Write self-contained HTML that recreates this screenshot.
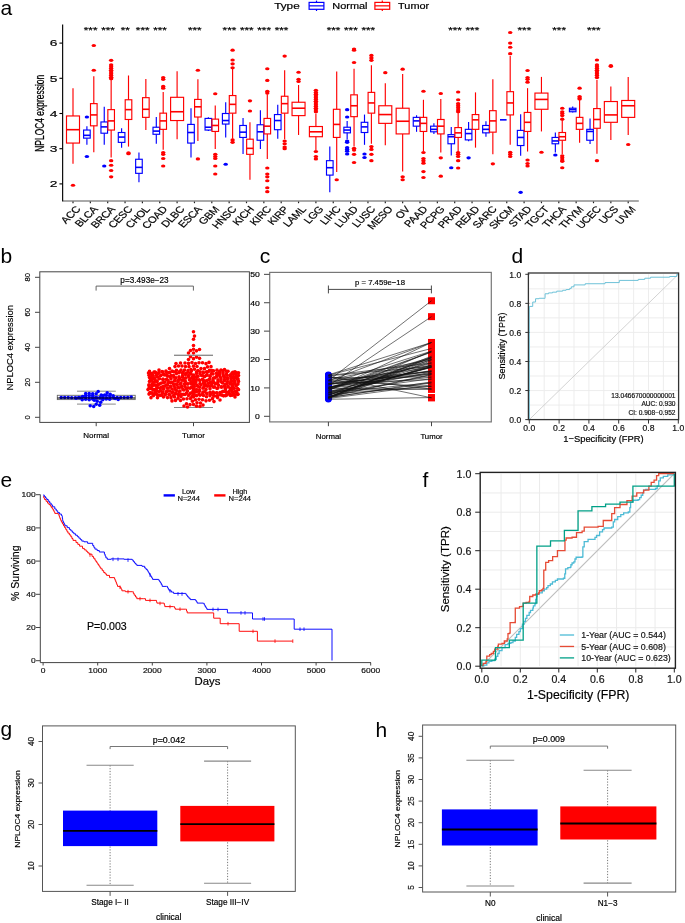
<!DOCTYPE html>
<html><head><meta charset="utf-8"><style>
html,body{margin:0;padding:0;background:#fff;width:685px;height:923px;overflow:hidden}
svg{display:block;will-change:transform}
text{font-family:"Liberation Sans",sans-serif;stroke:currentColor;stroke-width:0.18px}
</style></head><body>
<svg width="685" height="923" viewBox="0 0 685 923">
<rect x="0" y="0" width="685" height="923" fill="#fff"/>
<text x="0.50" y="15.30" font-size="21" text-anchor="start" fill="#000" style="stroke:none">a</text>
<text x="0.50" y="262.50" font-size="21" text-anchor="start" fill="#000" style="stroke:none">b</text>
<text x="259.70" y="262.80" font-size="21" text-anchor="start" fill="#000" style="stroke:none">c</text>
<text x="511.50" y="262.50" font-size="21" text-anchor="start" fill="#000" style="stroke:none">d</text>
<text x="0.50" y="487.20" font-size="21" text-anchor="start" fill="#000" style="stroke:none">e</text>
<text x="422.50" y="486.50" font-size="21" text-anchor="start" fill="#000" style="stroke:none">f</text>
<text x="0.50" y="735.50" font-size="21" text-anchor="start" fill="#000" style="stroke:none">g</text>
<text x="375.50" y="736.50" font-size="21" text-anchor="start" fill="#000" style="stroke:none">h</text>
<g>
<line x1="73.00" y1="115.96" x2="73.00" y2="88.16" stroke="#FF0000" stroke-width="1.15" />
<line x1="73.00" y1="143.07" x2="73.00" y2="163.84" stroke="#FF0000" stroke-width="1.15" />
<rect x="66.50" y="115.96" width="13.00" height="27.10" fill="none" stroke="#FF0000" stroke-width="1.15" />
<line x1="66.50" y1="129.69" x2="79.50" y2="129.69" stroke="#FF0000" stroke-width="1.6" />
<ellipse cx="73.00" cy="185.31" rx="2.2" ry="1.55" fill="#FF0000"/>
<line x1="86.90" y1="130.04" x2="86.90" y2="126.17" stroke="#0000FF" stroke-width="1.15" />
<line x1="86.90" y1="138.14" x2="86.90" y2="144.83" stroke="#0000FF" stroke-width="1.15" />
<rect x="83.60" y="130.04" width="6.60" height="8.10" fill="none" stroke="#0000FF" stroke-width="1.15" />
<line x1="83.60" y1="135.32" x2="90.20" y2="135.32" stroke="#0000FF" stroke-width="1.6" />
<ellipse cx="86.90" cy="117.02" rx="2.2" ry="1.55" fill="#0000FF"/>
<ellipse cx="86.90" cy="156.44" rx="2.2" ry="1.55" fill="#0000FF"/>
<line x1="93.80" y1="103.64" x2="93.80" y2="76.19" stroke="#FF0000" stroke-width="1.15" />
<line x1="93.80" y1="125.82" x2="93.80" y2="152.22" stroke="#FF0000" stroke-width="1.15" />
<rect x="90.50" y="103.64" width="6.60" height="22.18" fill="none" stroke="#FF0000" stroke-width="1.15" />
<line x1="90.50" y1="114.91" x2="97.10" y2="114.91" stroke="#FF0000" stroke-width="1.6" />
<ellipse cx="93.80" cy="70.20" rx="2.2" ry="1.55" fill="#FF0000"/>
<ellipse cx="93.80" cy="45.56" rx="2.2" ry="1.55" fill="#FF0000"/>
<text transform="translate(90.65,32.6) scale(1.4,1)" font-size="8.4" text-anchor="middle" fill="#000" >***</text>
<line x1="104.25" y1="121.95" x2="104.25" y2="106.81" stroke="#0000FF" stroke-width="1.15" />
<line x1="104.25" y1="133.21" x2="104.25" y2="144.83" stroke="#0000FF" stroke-width="1.15" />
<rect x="100.95" y="121.95" width="6.60" height="11.26" fill="none" stroke="#0000FF" stroke-width="1.15" />
<line x1="100.95" y1="126.88" x2="107.55" y2="126.88" stroke="#0000FF" stroke-width="1.6" />
<ellipse cx="104.25" cy="165.95" rx="2.2" ry="1.55" fill="#0000FF"/>
<line x1="111.15" y1="109.63" x2="111.15" y2="79.36" stroke="#FF0000" stroke-width="1.15" />
<line x1="111.15" y1="130.04" x2="111.15" y2="157.50" stroke="#FF0000" stroke-width="1.15" />
<rect x="107.85" y="109.63" width="6.60" height="20.42" fill="none" stroke="#FF0000" stroke-width="1.15" />
<line x1="107.85" y1="120.89" x2="114.45" y2="120.89" stroke="#FF0000" stroke-width="1.6" />
<ellipse cx="111.15" cy="60.35" rx="2.2" ry="1.55" fill="#FF0000"/>
<ellipse cx="111.15" cy="64.92" rx="2.2" ry="1.55" fill="#FF0000"/>
<ellipse cx="111.15" cy="66.68" rx="2.2" ry="1.55" fill="#FF0000"/>
<ellipse cx="111.15" cy="68.44" rx="2.2" ry="1.55" fill="#FF0000"/>
<ellipse cx="111.15" cy="70.20" rx="2.2" ry="1.55" fill="#FF0000"/>
<ellipse cx="111.15" cy="71.96" rx="2.2" ry="1.55" fill="#FF0000"/>
<ellipse cx="111.15" cy="73.72" rx="2.2" ry="1.55" fill="#FF0000"/>
<ellipse cx="111.15" cy="75.48" rx="2.2" ry="1.55" fill="#FF0000"/>
<ellipse cx="111.15" cy="77.24" rx="2.2" ry="1.55" fill="#FF0000"/>
<ellipse cx="111.15" cy="78.65" rx="2.2" ry="1.55" fill="#FF0000"/>
<ellipse cx="111.15" cy="160.67" rx="2.2" ry="1.55" fill="#FF0000"/>
<ellipse cx="111.15" cy="165.24" rx="2.2" ry="1.55" fill="#FF0000"/>
<ellipse cx="111.15" cy="170.52" rx="2.2" ry="1.55" fill="#FF0000"/>
<ellipse cx="111.15" cy="176.86" rx="2.2" ry="1.55" fill="#FF0000"/>
<text transform="translate(108.00,32.6) scale(1.4,1)" font-size="8.4" text-anchor="middle" fill="#000" >***</text>
<line x1="121.60" y1="132.51" x2="121.60" y2="128.28" stroke="#0000FF" stroke-width="1.15" />
<line x1="121.60" y1="142.36" x2="121.60" y2="147.64" stroke="#0000FF" stroke-width="1.15" />
<rect x="118.30" y="132.51" width="6.60" height="9.86" fill="none" stroke="#0000FF" stroke-width="1.15" />
<line x1="118.30" y1="137.08" x2="124.90" y2="137.08" stroke="#0000FF" stroke-width="1.6" />
<line x1="128.50" y1="99.77" x2="128.50" y2="75.48" stroke="#FF0000" stroke-width="1.15" />
<line x1="128.50" y1="119.48" x2="128.50" y2="146.59" stroke="#FF0000" stroke-width="1.15" />
<rect x="125.20" y="99.77" width="6.60" height="19.71" fill="none" stroke="#FF0000" stroke-width="1.15" />
<line x1="125.20" y1="109.63" x2="131.80" y2="109.63" stroke="#FF0000" stroke-width="1.6" />
<ellipse cx="128.50" cy="153.63" rx="2.2" ry="1.55" fill="#FF0000"/>
<ellipse cx="128.50" cy="152.92" rx="2.2" ry="1.55" fill="#FF0000"/>
<text transform="translate(125.35,32.6) scale(1.4,1)" font-size="8.4" text-anchor="middle" fill="#000" >**</text>
<line x1="138.95" y1="159.26" x2="138.95" y2="152.57" stroke="#0000FF" stroke-width="1.15" />
<line x1="138.95" y1="173.34" x2="138.95" y2="182.14" stroke="#0000FF" stroke-width="1.15" />
<rect x="135.65" y="159.26" width="6.60" height="14.08" fill="none" stroke="#0000FF" stroke-width="1.15" />
<line x1="135.65" y1="167.36" x2="142.25" y2="167.36" stroke="#0000FF" stroke-width="1.6" />
<line x1="145.85" y1="97.66" x2="145.85" y2="79.00" stroke="#FF0000" stroke-width="1.15" />
<line x1="145.85" y1="117.37" x2="145.85" y2="130.04" stroke="#FF0000" stroke-width="1.15" />
<rect x="142.55" y="97.66" width="6.60" height="19.71" fill="none" stroke="#FF0000" stroke-width="1.15" />
<line x1="142.55" y1="109.28" x2="149.15" y2="109.28" stroke="#FF0000" stroke-width="1.6" />
<text transform="translate(142.70,32.6) scale(1.4,1)" font-size="8.4" text-anchor="middle" fill="#000" >***</text>
<line x1="156.30" y1="127.23" x2="156.30" y2="117.02" stroke="#0000FF" stroke-width="1.15" />
<line x1="156.30" y1="134.27" x2="156.30" y2="143.77" stroke="#0000FF" stroke-width="1.15" />
<rect x="153.00" y="127.23" width="6.60" height="7.04" fill="none" stroke="#0000FF" stroke-width="1.15" />
<line x1="153.00" y1="131.10" x2="159.60" y2="131.10" stroke="#0000FF" stroke-width="1.6" />
<line x1="163.20" y1="113.15" x2="163.20" y2="92.03" stroke="#FF0000" stroke-width="1.15" />
<line x1="163.20" y1="129.34" x2="163.20" y2="149.76" stroke="#FF0000" stroke-width="1.15" />
<rect x="159.90" y="113.15" width="6.60" height="16.19" fill="none" stroke="#FF0000" stroke-width="1.15" />
<line x1="159.90" y1="120.89" x2="166.50" y2="120.89" stroke="#FF0000" stroke-width="1.6" />
<ellipse cx="163.20" cy="77.60" rx="2.2" ry="1.55" fill="#FF0000"/>
<ellipse cx="163.20" cy="79.36" rx="2.2" ry="1.55" fill="#FF0000"/>
<ellipse cx="163.20" cy="86.40" rx="2.2" ry="1.55" fill="#FF0000"/>
<ellipse cx="163.20" cy="88.16" rx="2.2" ry="1.55" fill="#FF0000"/>
<ellipse cx="163.20" cy="152.57" rx="2.2" ry="1.55" fill="#FF0000"/>
<ellipse cx="163.20" cy="154.33" rx="2.2" ry="1.55" fill="#FF0000"/>
<ellipse cx="163.20" cy="158.56" rx="2.2" ry="1.55" fill="#FF0000"/>
<ellipse cx="163.20" cy="165.95" rx="2.2" ry="1.55" fill="#FF0000"/>
<text transform="translate(160.05,32.6) scale(1.4,1)" font-size="8.4" text-anchor="middle" fill="#000" >***</text>
<line x1="177.10" y1="97.31" x2="177.10" y2="71.26" stroke="#FF0000" stroke-width="1.15" />
<line x1="177.10" y1="120.54" x2="177.10" y2="139.20" stroke="#FF0000" stroke-width="1.15" />
<rect x="170.60" y="97.31" width="13.00" height="23.23" fill="none" stroke="#FF0000" stroke-width="1.15" />
<line x1="170.60" y1="111.74" x2="183.60" y2="111.74" stroke="#FF0000" stroke-width="1.6" />
<line x1="191.00" y1="124.41" x2="191.00" y2="108.22" stroke="#0000FF" stroke-width="1.15" />
<line x1="191.00" y1="143.07" x2="191.00" y2="157.50" stroke="#0000FF" stroke-width="1.15" />
<rect x="187.70" y="124.41" width="6.60" height="18.66" fill="none" stroke="#0000FF" stroke-width="1.15" />
<line x1="187.70" y1="132.51" x2="194.30" y2="132.51" stroke="#0000FF" stroke-width="1.6" />
<line x1="197.90" y1="99.42" x2="197.90" y2="79.36" stroke="#FF0000" stroke-width="1.15" />
<line x1="197.90" y1="117.02" x2="197.90" y2="140.96" stroke="#FF0000" stroke-width="1.15" />
<rect x="194.60" y="99.42" width="6.60" height="17.60" fill="none" stroke="#FF0000" stroke-width="1.15" />
<line x1="194.60" y1="106.81" x2="201.20" y2="106.81" stroke="#FF0000" stroke-width="1.6" />
<ellipse cx="197.90" cy="70.20" rx="2.2" ry="1.55" fill="#FF0000"/>
<ellipse cx="197.90" cy="158.91" rx="2.2" ry="1.55" fill="#FF0000"/>
<text transform="translate(194.75,32.6) scale(1.4,1)" font-size="8.4" text-anchor="middle" fill="#000" >***</text>
<line x1="208.35" y1="118.43" x2="208.35" y2="117.37" stroke="#0000FF" stroke-width="1.15" />
<line x1="208.35" y1="130.04" x2="208.35" y2="131.10" stroke="#0000FF" stroke-width="1.15" />
<rect x="205.05" y="118.43" width="6.60" height="11.62" fill="none" stroke="#0000FF" stroke-width="1.15" />
<line x1="205.05" y1="127.23" x2="211.65" y2="127.23" stroke="#0000FF" stroke-width="1.6" />
<line x1="215.25" y1="119.13" x2="215.25" y2="105.40" stroke="#FF0000" stroke-width="1.15" />
<line x1="215.25" y1="131.45" x2="215.25" y2="149.05" stroke="#FF0000" stroke-width="1.15" />
<rect x="211.95" y="119.13" width="6.60" height="12.32" fill="none" stroke="#FF0000" stroke-width="1.15" />
<line x1="211.95" y1="125.47" x2="218.55" y2="125.47" stroke="#FF0000" stroke-width="1.6" />
<ellipse cx="215.25" cy="93.79" rx="2.2" ry="1.55" fill="#FF0000"/>
<ellipse cx="215.25" cy="154.33" rx="2.2" ry="1.55" fill="#FF0000"/>
<ellipse cx="215.25" cy="156.44" rx="2.2" ry="1.55" fill="#FF0000"/>
<ellipse cx="215.25" cy="158.56" rx="2.2" ry="1.55" fill="#FF0000"/>
<ellipse cx="215.25" cy="165.95" rx="2.2" ry="1.55" fill="#FF0000"/>
<ellipse cx="215.25" cy="174.04" rx="2.2" ry="1.55" fill="#FF0000"/>
<line x1="225.70" y1="113.50" x2="225.70" y2="102.24" stroke="#0000FF" stroke-width="1.15" />
<line x1="225.70" y1="124.06" x2="225.70" y2="137.44" stroke="#0000FF" stroke-width="1.15" />
<rect x="222.40" y="113.50" width="6.60" height="10.56" fill="none" stroke="#0000FF" stroke-width="1.15" />
<line x1="222.40" y1="120.54" x2="229.00" y2="120.54" stroke="#0000FF" stroke-width="1.6" />
<ellipse cx="225.70" cy="164.19" rx="2.2" ry="1.55" fill="#0000FF"/>
<line x1="232.60" y1="95.55" x2="232.60" y2="68.80" stroke="#FF0000" stroke-width="1.15" />
<line x1="232.60" y1="113.15" x2="232.60" y2="138.84" stroke="#FF0000" stroke-width="1.15" />
<rect x="229.30" y="95.55" width="6.60" height="17.60" fill="none" stroke="#FF0000" stroke-width="1.15" />
<line x1="229.30" y1="104.35" x2="235.90" y2="104.35" stroke="#FF0000" stroke-width="1.6" />
<ellipse cx="232.60" cy="50.14" rx="2.2" ry="1.55" fill="#FF0000"/>
<ellipse cx="232.60" cy="60.00" rx="2.2" ry="1.55" fill="#FF0000"/>
<ellipse cx="232.60" cy="63.87" rx="2.2" ry="1.55" fill="#FF0000"/>
<ellipse cx="232.60" cy="67.74" rx="2.2" ry="1.55" fill="#FF0000"/>
<ellipse cx="232.60" cy="139.90" rx="2.2" ry="1.55" fill="#FF0000"/>
<ellipse cx="232.60" cy="142.36" rx="2.2" ry="1.55" fill="#FF0000"/>
<text transform="translate(229.45,32.6) scale(1.4,1)" font-size="8.4" text-anchor="middle" fill="#000" >***</text>
<line x1="243.05" y1="125.47" x2="243.05" y2="118.08" stroke="#0000FF" stroke-width="1.15" />
<line x1="243.05" y1="137.44" x2="243.05" y2="153.98" stroke="#0000FF" stroke-width="1.15" />
<rect x="239.75" y="125.47" width="6.60" height="11.97" fill="none" stroke="#0000FF" stroke-width="1.15" />
<line x1="239.75" y1="132.16" x2="246.35" y2="132.16" stroke="#0000FF" stroke-width="1.6" />
<line x1="249.95" y1="139.20" x2="249.95" y2="122.30" stroke="#FF0000" stroke-width="1.15" />
<line x1="249.95" y1="154.33" x2="249.95" y2="179.68" stroke="#FF0000" stroke-width="1.15" />
<rect x="246.65" y="139.20" width="6.60" height="15.14" fill="none" stroke="#FF0000" stroke-width="1.15" />
<line x1="246.65" y1="148.35" x2="253.25" y2="148.35" stroke="#FF0000" stroke-width="1.6" />
<ellipse cx="249.95" cy="100.83" rx="2.2" ry="1.55" fill="#FF0000"/>
<ellipse cx="249.95" cy="111.04" rx="2.2" ry="1.55" fill="#FF0000"/>
<text transform="translate(246.80,32.6) scale(1.4,1)" font-size="8.4" text-anchor="middle" fill="#000" >***</text>
<line x1="260.40" y1="124.76" x2="260.40" y2="110.33" stroke="#0000FF" stroke-width="1.15" />
<line x1="260.40" y1="140.25" x2="260.40" y2="149.05" stroke="#0000FF" stroke-width="1.15" />
<rect x="257.10" y="124.76" width="6.60" height="15.49" fill="none" stroke="#0000FF" stroke-width="1.15" />
<line x1="257.10" y1="131.80" x2="263.70" y2="131.80" stroke="#0000FF" stroke-width="1.6" />
<line x1="267.30" y1="118.43" x2="267.30" y2="94.14" stroke="#FF0000" stroke-width="1.15" />
<line x1="267.30" y1="133.92" x2="267.30" y2="158.91" stroke="#FF0000" stroke-width="1.15" />
<rect x="264.00" y="118.43" width="6.60" height="15.49" fill="none" stroke="#FF0000" stroke-width="1.15" />
<line x1="264.00" y1="126.17" x2="270.60" y2="126.17" stroke="#FF0000" stroke-width="1.6" />
<ellipse cx="267.30" cy="68.80" rx="2.2" ry="1.55" fill="#FF0000"/>
<ellipse cx="267.30" cy="80.41" rx="2.2" ry="1.55" fill="#FF0000"/>
<ellipse cx="267.30" cy="91.32" rx="2.2" ry="1.55" fill="#FF0000"/>
<ellipse cx="267.30" cy="93.08" rx="2.2" ry="1.55" fill="#FF0000"/>
<ellipse cx="267.30" cy="168.06" rx="2.2" ry="1.55" fill="#FF0000"/>
<ellipse cx="267.30" cy="174.04" rx="2.2" ry="1.55" fill="#FF0000"/>
<ellipse cx="267.30" cy="176.86" rx="2.2" ry="1.55" fill="#FF0000"/>
<ellipse cx="267.30" cy="180.73" rx="2.2" ry="1.55" fill="#FF0000"/>
<ellipse cx="267.30" cy="187.77" rx="2.2" ry="1.55" fill="#FF0000"/>
<ellipse cx="267.30" cy="191.64" rx="2.2" ry="1.55" fill="#FF0000"/>
<text transform="translate(264.15,32.6) scale(1.4,1)" font-size="8.4" text-anchor="middle" fill="#000" >***</text>
<line x1="277.75" y1="114.56" x2="277.75" y2="104.70" stroke="#0000FF" stroke-width="1.15" />
<line x1="277.75" y1="129.69" x2="277.75" y2="138.84" stroke="#0000FF" stroke-width="1.15" />
<rect x="274.45" y="114.56" width="6.60" height="15.14" fill="none" stroke="#0000FF" stroke-width="1.15" />
<line x1="274.45" y1="120.54" x2="281.05" y2="120.54" stroke="#0000FF" stroke-width="1.6" />
<line x1="284.65" y1="96.25" x2="284.65" y2="70.20" stroke="#FF0000" stroke-width="1.15" />
<line x1="284.65" y1="113.15" x2="284.65" y2="139.20" stroke="#FF0000" stroke-width="1.15" />
<rect x="281.35" y="96.25" width="6.60" height="16.90" fill="none" stroke="#FF0000" stroke-width="1.15" />
<line x1="281.35" y1="103.64" x2="287.95" y2="103.64" stroke="#FF0000" stroke-width="1.6" />
<ellipse cx="284.65" cy="56.12" rx="2.2" ry="1.55" fill="#FF0000"/>
<ellipse cx="284.65" cy="140.96" rx="2.2" ry="1.55" fill="#FF0000"/>
<ellipse cx="284.65" cy="143.77" rx="2.2" ry="1.55" fill="#FF0000"/>
<ellipse cx="284.65" cy="146.94" rx="2.2" ry="1.55" fill="#FF0000"/>
<ellipse cx="284.65" cy="148.70" rx="2.2" ry="1.55" fill="#FF0000"/>
<text transform="translate(281.50,32.6) scale(1.4,1)" font-size="8.4" text-anchor="middle" fill="#000" >***</text>
<line x1="298.55" y1="102.24" x2="298.55" y2="84.99" stroke="#FF0000" stroke-width="1.15" />
<line x1="298.55" y1="115.61" x2="298.55" y2="134.97" stroke="#FF0000" stroke-width="1.15" />
<rect x="292.05" y="102.24" width="13.00" height="13.38" fill="none" stroke="#FF0000" stroke-width="1.15" />
<line x1="292.05" y1="108.22" x2="305.05" y2="108.22" stroke="#FF0000" stroke-width="1.6" />
<ellipse cx="298.55" cy="72.32" rx="2.2" ry="1.55" fill="#FF0000"/>
<ellipse cx="298.55" cy="79.36" rx="2.2" ry="1.55" fill="#FF0000"/>
<ellipse cx="298.55" cy="81.47" rx="2.2" ry="1.55" fill="#FF0000"/>
<line x1="315.90" y1="126.52" x2="315.90" y2="113.50" stroke="#FF0000" stroke-width="1.15" />
<line x1="315.90" y1="136.73" x2="315.90" y2="150.11" stroke="#FF0000" stroke-width="1.15" />
<rect x="309.40" y="126.52" width="13.00" height="10.21" fill="none" stroke="#FF0000" stroke-width="1.15" />
<line x1="309.40" y1="131.80" x2="322.40" y2="131.80" stroke="#FF0000" stroke-width="1.6" />
<ellipse cx="315.90" cy="90.27" rx="2.2" ry="1.55" fill="#FF0000"/>
<ellipse cx="315.90" cy="92.38" rx="2.2" ry="1.55" fill="#FF0000"/>
<ellipse cx="315.90" cy="94.14" rx="2.2" ry="1.55" fill="#FF0000"/>
<ellipse cx="315.90" cy="95.90" rx="2.2" ry="1.55" fill="#FF0000"/>
<ellipse cx="315.90" cy="97.66" rx="2.2" ry="1.55" fill="#FF0000"/>
<ellipse cx="315.90" cy="99.42" rx="2.2" ry="1.55" fill="#FF0000"/>
<ellipse cx="315.90" cy="101.18" rx="2.2" ry="1.55" fill="#FF0000"/>
<ellipse cx="315.90" cy="102.94" rx="2.2" ry="1.55" fill="#FF0000"/>
<ellipse cx="315.90" cy="104.70" rx="2.2" ry="1.55" fill="#FF0000"/>
<ellipse cx="315.90" cy="106.46" rx="2.2" ry="1.55" fill="#FF0000"/>
<ellipse cx="315.90" cy="108.22" rx="2.2" ry="1.55" fill="#FF0000"/>
<ellipse cx="315.90" cy="109.98" rx="2.2" ry="1.55" fill="#FF0000"/>
<ellipse cx="315.90" cy="111.74" rx="2.2" ry="1.55" fill="#FF0000"/>
<ellipse cx="315.90" cy="151.52" rx="2.2" ry="1.55" fill="#FF0000"/>
<ellipse cx="315.90" cy="156.44" rx="2.2" ry="1.55" fill="#FF0000"/>
<ellipse cx="315.90" cy="158.91" rx="2.2" ry="1.55" fill="#FF0000"/>
<line x1="329.80" y1="160.67" x2="329.80" y2="146.59" stroke="#0000FF" stroke-width="1.15" />
<line x1="329.80" y1="175.10" x2="329.80" y2="192.35" stroke="#0000FF" stroke-width="1.15" />
<rect x="326.50" y="160.67" width="6.60" height="14.43" fill="none" stroke="#0000FF" stroke-width="1.15" />
<line x1="326.50" y1="167.71" x2="333.10" y2="167.71" stroke="#0000FF" stroke-width="1.6" />
<line x1="336.70" y1="109.28" x2="336.70" y2="71.61" stroke="#FF0000" stroke-width="1.15" />
<line x1="336.70" y1="137.44" x2="336.70" y2="171.93" stroke="#FF0000" stroke-width="1.15" />
<rect x="333.40" y="109.28" width="6.60" height="28.16" fill="none" stroke="#FF0000" stroke-width="1.15" />
<line x1="333.40" y1="124.41" x2="340.00" y2="124.41" stroke="#FF0000" stroke-width="1.6" />
<ellipse cx="336.70" cy="179.68" rx="2.2" ry="1.55" fill="#FF0000"/>
<text transform="translate(333.55,32.6) scale(1.4,1)" font-size="8.4" text-anchor="middle" fill="#000" >***</text>
<line x1="347.15" y1="127.23" x2="347.15" y2="120.89" stroke="#0000FF" stroke-width="1.15" />
<line x1="347.15" y1="132.86" x2="347.15" y2="139.20" stroke="#0000FF" stroke-width="1.15" />
<rect x="343.85" y="127.23" width="6.60" height="5.63" fill="none" stroke="#0000FF" stroke-width="1.15" />
<line x1="343.85" y1="130.04" x2="350.45" y2="130.04" stroke="#0000FF" stroke-width="1.6" />
<ellipse cx="347.15" cy="109.63" rx="2.2" ry="1.55" fill="#0000FF"/>
<ellipse cx="347.15" cy="117.02" rx="2.2" ry="1.55" fill="#0000FF"/>
<ellipse cx="347.15" cy="140.96" rx="2.2" ry="1.55" fill="#0000FF"/>
<ellipse cx="347.15" cy="142.36" rx="2.2" ry="1.55" fill="#0000FF"/>
<ellipse cx="347.15" cy="147.64" rx="2.2" ry="1.55" fill="#0000FF"/>
<ellipse cx="347.15" cy="149.40" rx="2.2" ry="1.55" fill="#0000FF"/>
<ellipse cx="347.15" cy="151.16" rx="2.2" ry="1.55" fill="#0000FF"/>
<ellipse cx="347.15" cy="153.98" rx="2.2" ry="1.55" fill="#0000FF"/>
<line x1="354.05" y1="94.84" x2="354.05" y2="68.80" stroke="#FF0000" stroke-width="1.15" />
<line x1="354.05" y1="116.67" x2="354.05" y2="146.59" stroke="#FF0000" stroke-width="1.15" />
<rect x="350.75" y="94.84" width="6.60" height="21.82" fill="none" stroke="#FF0000" stroke-width="1.15" />
<line x1="350.75" y1="105.76" x2="357.35" y2="105.76" stroke="#FF0000" stroke-width="1.6" />
<ellipse cx="354.05" cy="49.08" rx="2.2" ry="1.55" fill="#FF0000"/>
<ellipse cx="354.05" cy="50.14" rx="2.2" ry="1.55" fill="#FF0000"/>
<ellipse cx="354.05" cy="62.46" rx="2.2" ry="1.55" fill="#FF0000"/>
<ellipse cx="354.05" cy="148.35" rx="2.2" ry="1.55" fill="#FF0000"/>
<ellipse cx="354.05" cy="150.11" rx="2.2" ry="1.55" fill="#FF0000"/>
<ellipse cx="354.05" cy="154.33" rx="2.2" ry="1.55" fill="#FF0000"/>
<ellipse cx="354.05" cy="162.43" rx="2.2" ry="1.55" fill="#FF0000"/>
<text transform="translate(350.90,32.6) scale(1.4,1)" font-size="8.4" text-anchor="middle" fill="#000" >***</text>
<line x1="364.50" y1="122.30" x2="364.50" y2="114.56" stroke="#0000FF" stroke-width="1.15" />
<line x1="364.50" y1="132.51" x2="364.50" y2="144.83" stroke="#0000FF" stroke-width="1.15" />
<rect x="361.20" y="122.30" width="6.60" height="10.21" fill="none" stroke="#0000FF" stroke-width="1.15" />
<line x1="361.20" y1="126.88" x2="367.80" y2="126.88" stroke="#0000FF" stroke-width="1.6" />
<ellipse cx="364.50" cy="153.98" rx="2.2" ry="1.55" fill="#0000FF"/>
<ellipse cx="364.50" cy="157.50" rx="2.2" ry="1.55" fill="#0000FF"/>
<line x1="371.40" y1="92.38" x2="371.40" y2="65.28" stroke="#FF0000" stroke-width="1.15" />
<line x1="371.40" y1="113.15" x2="371.40" y2="143.77" stroke="#FF0000" stroke-width="1.15" />
<rect x="368.10" y="92.38" width="6.60" height="20.77" fill="none" stroke="#FF0000" stroke-width="1.15" />
<line x1="368.10" y1="102.94" x2="374.70" y2="102.94" stroke="#FF0000" stroke-width="1.6" />
<ellipse cx="371.40" cy="55.42" rx="2.2" ry="1.55" fill="#FF0000"/>
<ellipse cx="371.40" cy="57.88" rx="2.2" ry="1.55" fill="#FF0000"/>
<ellipse cx="371.40" cy="60.35" rx="2.2" ry="1.55" fill="#FF0000"/>
<ellipse cx="371.40" cy="146.59" rx="2.2" ry="1.55" fill="#FF0000"/>
<ellipse cx="371.40" cy="149.40" rx="2.2" ry="1.55" fill="#FF0000"/>
<ellipse cx="371.40" cy="154.33" rx="2.2" ry="1.55" fill="#FF0000"/>
<ellipse cx="371.40" cy="160.67" rx="2.2" ry="1.55" fill="#FF0000"/>
<text transform="translate(368.25,32.6) scale(1.4,1)" font-size="8.4" text-anchor="middle" fill="#000" >***</text>
<line x1="385.30" y1="105.76" x2="385.30" y2="83.23" stroke="#FF0000" stroke-width="1.15" />
<line x1="385.30" y1="123.36" x2="385.30" y2="145.18" stroke="#FF0000" stroke-width="1.15" />
<rect x="378.80" y="105.76" width="13.00" height="17.60" fill="none" stroke="#FF0000" stroke-width="1.15" />
<line x1="378.80" y1="114.56" x2="391.80" y2="114.56" stroke="#FF0000" stroke-width="1.6" />
<ellipse cx="385.30" cy="72.67" rx="2.2" ry="1.55" fill="#FF0000"/>
<line x1="402.65" y1="108.22" x2="402.65" y2="74.08" stroke="#FF0000" stroke-width="1.15" />
<line x1="402.65" y1="133.92" x2="402.65" y2="171.58" stroke="#FF0000" stroke-width="1.15" />
<rect x="396.15" y="108.22" width="13.00" height="25.70" fill="none" stroke="#FF0000" stroke-width="1.15" />
<line x1="396.15" y1="121.24" x2="409.15" y2="121.24" stroke="#FF0000" stroke-width="1.6" />
<ellipse cx="402.65" cy="69.15" rx="2.2" ry="1.55" fill="#FF0000"/>
<ellipse cx="402.65" cy="176.86" rx="2.2" ry="1.55" fill="#FF0000"/>
<ellipse cx="402.65" cy="179.68" rx="2.2" ry="1.55" fill="#FF0000"/>
<line x1="416.55" y1="117.37" x2="416.55" y2="115.26" stroke="#0000FF" stroke-width="1.15" />
<line x1="416.55" y1="126.17" x2="416.55" y2="131.80" stroke="#0000FF" stroke-width="1.15" />
<rect x="413.25" y="117.37" width="6.60" height="8.80" fill="none" stroke="#0000FF" stroke-width="1.15" />
<line x1="413.25" y1="120.89" x2="419.85" y2="120.89" stroke="#0000FF" stroke-width="1.6" />
<line x1="423.45" y1="117.37" x2="423.45" y2="99.77" stroke="#FF0000" stroke-width="1.15" />
<line x1="423.45" y1="131.45" x2="423.45" y2="151.16" stroke="#FF0000" stroke-width="1.15" />
<rect x="420.15" y="117.37" width="6.60" height="14.08" fill="none" stroke="#FF0000" stroke-width="1.15" />
<line x1="420.15" y1="123.36" x2="426.75" y2="123.36" stroke="#FF0000" stroke-width="1.6" />
<ellipse cx="423.45" cy="91.32" rx="2.2" ry="1.55" fill="#FF0000"/>
<ellipse cx="423.45" cy="152.57" rx="2.2" ry="1.55" fill="#FF0000"/>
<ellipse cx="423.45" cy="158.56" rx="2.2" ry="1.55" fill="#FF0000"/>
<ellipse cx="423.45" cy="160.67" rx="2.2" ry="1.55" fill="#FF0000"/>
<ellipse cx="423.45" cy="163.13" rx="2.2" ry="1.55" fill="#FF0000"/>
<ellipse cx="423.45" cy="171.58" rx="2.2" ry="1.55" fill="#FF0000"/>
<ellipse cx="423.45" cy="177.56" rx="2.2" ry="1.55" fill="#FF0000"/>
<line x1="433.90" y1="126.17" x2="433.90" y2="123.36" stroke="#0000FF" stroke-width="1.15" />
<line x1="433.90" y1="131.80" x2="433.90" y2="133.92" stroke="#0000FF" stroke-width="1.15" />
<rect x="430.60" y="126.17" width="6.60" height="5.63" fill="none" stroke="#0000FF" stroke-width="1.15" />
<line x1="430.60" y1="129.34" x2="437.20" y2="129.34" stroke="#0000FF" stroke-width="1.6" />
<line x1="440.80" y1="119.48" x2="440.80" y2="99.07" stroke="#FF0000" stroke-width="1.15" />
<line x1="440.80" y1="133.92" x2="440.80" y2="152.57" stroke="#FF0000" stroke-width="1.15" />
<rect x="437.50" y="119.48" width="6.60" height="14.43" fill="none" stroke="#FF0000" stroke-width="1.15" />
<line x1="437.50" y1="126.17" x2="444.10" y2="126.17" stroke="#FF0000" stroke-width="1.6" />
<ellipse cx="440.80" cy="93.44" rx="2.2" ry="1.55" fill="#FF0000"/>
<ellipse cx="440.80" cy="157.85" rx="2.2" ry="1.55" fill="#FF0000"/>
<ellipse cx="440.80" cy="176.16" rx="2.2" ry="1.55" fill="#FF0000"/>
<line x1="451.25" y1="134.62" x2="451.25" y2="126.88" stroke="#0000FF" stroke-width="1.15" />
<line x1="451.25" y1="143.77" x2="451.25" y2="155.39" stroke="#0000FF" stroke-width="1.15" />
<rect x="447.95" y="134.62" width="6.60" height="9.15" fill="none" stroke="#0000FF" stroke-width="1.15" />
<line x1="447.95" y1="136.73" x2="454.55" y2="136.73" stroke="#0000FF" stroke-width="1.6" />
<ellipse cx="451.25" cy="167.71" rx="2.2" ry="1.55" fill="#0000FF"/>
<line x1="458.15" y1="127.58" x2="458.15" y2="112.44" stroke="#FF0000" stroke-width="1.15" />
<line x1="458.15" y1="137.44" x2="458.15" y2="152.22" stroke="#FF0000" stroke-width="1.15" />
<rect x="454.85" y="127.58" width="6.60" height="9.86" fill="none" stroke="#FF0000" stroke-width="1.15" />
<line x1="454.85" y1="132.86" x2="461.45" y2="132.86" stroke="#FF0000" stroke-width="1.6" />
<ellipse cx="458.15" cy="92.03" rx="2.2" ry="1.55" fill="#FF0000"/>
<ellipse cx="458.15" cy="99.77" rx="2.2" ry="1.55" fill="#FF0000"/>
<ellipse cx="458.15" cy="103.64" rx="2.2" ry="1.55" fill="#FF0000"/>
<ellipse cx="458.15" cy="105.76" rx="2.2" ry="1.55" fill="#FF0000"/>
<ellipse cx="458.15" cy="107.87" rx="2.2" ry="1.55" fill="#FF0000"/>
<ellipse cx="458.15" cy="109.98" rx="2.2" ry="1.55" fill="#FF0000"/>
<ellipse cx="458.15" cy="111.74" rx="2.2" ry="1.55" fill="#FF0000"/>
<ellipse cx="458.15" cy="152.57" rx="2.2" ry="1.55" fill="#FF0000"/>
<ellipse cx="458.15" cy="154.33" rx="2.2" ry="1.55" fill="#FF0000"/>
<ellipse cx="458.15" cy="156.44" rx="2.2" ry="1.55" fill="#FF0000"/>
<ellipse cx="458.15" cy="160.67" rx="2.2" ry="1.55" fill="#FF0000"/>
<ellipse cx="458.15" cy="168.06" rx="2.2" ry="1.55" fill="#FF0000"/>
<text transform="translate(455.00,32.6) scale(1.4,1)" font-size="8.4" text-anchor="middle" fill="#000" >***</text>
<line x1="468.60" y1="129.34" x2="468.60" y2="121.95" stroke="#0000FF" stroke-width="1.15" />
<line x1="468.60" y1="139.90" x2="468.60" y2="141.31" stroke="#0000FF" stroke-width="1.15" />
<rect x="465.30" y="129.34" width="6.60" height="10.56" fill="none" stroke="#0000FF" stroke-width="1.15" />
<line x1="465.30" y1="133.56" x2="471.90" y2="133.56" stroke="#0000FF" stroke-width="1.6" />
<ellipse cx="468.60" cy="157.85" rx="2.2" ry="1.55" fill="#0000FF"/>
<line x1="475.50" y1="114.56" x2="475.50" y2="92.38" stroke="#FF0000" stroke-width="1.15" />
<line x1="475.50" y1="129.34" x2="475.50" y2="147.64" stroke="#FF0000" stroke-width="1.15" />
<rect x="472.20" y="114.56" width="6.60" height="14.78" fill="none" stroke="#FF0000" stroke-width="1.15" />
<line x1="472.20" y1="119.84" x2="478.80" y2="119.84" stroke="#FF0000" stroke-width="1.6" />
<text transform="translate(472.35,32.6) scale(1.4,1)" font-size="8.4" text-anchor="middle" fill="#000" >***</text>
<line x1="485.95" y1="125.47" x2="485.95" y2="121.24" stroke="#0000FF" stroke-width="1.15" />
<line x1="485.95" y1="132.86" x2="485.95" y2="136.73" stroke="#0000FF" stroke-width="1.15" />
<rect x="482.65" y="125.47" width="6.60" height="7.39" fill="none" stroke="#0000FF" stroke-width="1.15" />
<line x1="482.65" y1="129.34" x2="489.25" y2="129.34" stroke="#0000FF" stroke-width="1.6" />
<line x1="492.85" y1="110.68" x2="492.85" y2="79.36" stroke="#FF0000" stroke-width="1.15" />
<line x1="492.85" y1="132.16" x2="492.85" y2="154.33" stroke="#FF0000" stroke-width="1.15" />
<rect x="489.55" y="110.68" width="6.60" height="21.47" fill="none" stroke="#FF0000" stroke-width="1.15" />
<line x1="489.55" y1="120.89" x2="496.15" y2="120.89" stroke="#FF0000" stroke-width="1.6" />
<ellipse cx="492.85" cy="163.84" rx="2.2" ry="1.55" fill="#FF0000"/>
<line x1="503.30" y1="119.84" x2="503.30" y2="119.84" stroke="#0000FF" stroke-width="1.15" />
<line x1="503.30" y1="119.84" x2="503.30" y2="119.84" stroke="#0000FF" stroke-width="1.15" />
<line x1="500.00" y1="119.84" x2="506.60" y2="119.84" stroke="#0000FF" stroke-width="1.6" />
<line x1="510.20" y1="91.68" x2="510.20" y2="56.12" stroke="#FF0000" stroke-width="1.15" />
<line x1="510.20" y1="114.91" x2="510.20" y2="144.83" stroke="#FF0000" stroke-width="1.15" />
<rect x="506.90" y="91.68" width="6.60" height="23.23" fill="none" stroke="#FF0000" stroke-width="1.15" />
<line x1="506.90" y1="102.94" x2="513.50" y2="102.94" stroke="#FF0000" stroke-width="1.6" />
<ellipse cx="510.20" cy="32.54" rx="2.2" ry="1.55" fill="#FF0000"/>
<ellipse cx="510.20" cy="43.10" rx="2.2" ry="1.55" fill="#FF0000"/>
<ellipse cx="510.20" cy="47.32" rx="2.2" ry="1.55" fill="#FF0000"/>
<ellipse cx="510.20" cy="53.66" rx="2.2" ry="1.55" fill="#FF0000"/>
<ellipse cx="510.20" cy="152.22" rx="2.2" ry="1.55" fill="#FF0000"/>
<ellipse cx="510.20" cy="154.33" rx="2.2" ry="1.55" fill="#FF0000"/>
<ellipse cx="510.20" cy="156.44" rx="2.2" ry="1.55" fill="#FF0000"/>
<line x1="520.65" y1="130.40" x2="520.65" y2="114.20" stroke="#0000FF" stroke-width="1.15" />
<line x1="520.65" y1="145.53" x2="520.65" y2="155.74" stroke="#0000FF" stroke-width="1.15" />
<rect x="517.35" y="130.40" width="6.60" height="15.14" fill="none" stroke="#0000FF" stroke-width="1.15" />
<line x1="517.35" y1="137.44" x2="523.95" y2="137.44" stroke="#0000FF" stroke-width="1.6" />
<ellipse cx="520.65" cy="192.35" rx="2.2" ry="1.55" fill="#0000FF"/>
<line x1="527.55" y1="112.44" x2="527.55" y2="88.16" stroke="#FF0000" stroke-width="1.15" />
<line x1="527.55" y1="131.45" x2="527.55" y2="151.52" stroke="#FF0000" stroke-width="1.15" />
<rect x="524.25" y="112.44" width="6.60" height="19.01" fill="none" stroke="#FF0000" stroke-width="1.15" />
<line x1="524.25" y1="122.30" x2="530.85" y2="122.30" stroke="#FF0000" stroke-width="1.6" />
<ellipse cx="527.55" cy="70.56" rx="2.2" ry="1.55" fill="#FF0000"/>
<ellipse cx="527.55" cy="77.60" rx="2.2" ry="1.55" fill="#FF0000"/>
<ellipse cx="527.55" cy="79.36" rx="2.2" ry="1.55" fill="#FF0000"/>
<ellipse cx="527.55" cy="82.17" rx="2.2" ry="1.55" fill="#FF0000"/>
<ellipse cx="527.55" cy="159.96" rx="2.2" ry="1.55" fill="#FF0000"/>
<ellipse cx="527.55" cy="163.48" rx="2.2" ry="1.55" fill="#FF0000"/>
<ellipse cx="527.55" cy="165.95" rx="2.2" ry="1.55" fill="#FF0000"/>
<text transform="translate(524.40,32.6) scale(1.4,1)" font-size="8.4" text-anchor="middle" fill="#000" >***</text>
<line x1="541.45" y1="93.08" x2="541.45" y2="76.89" stroke="#FF0000" stroke-width="1.15" />
<line x1="541.45" y1="109.28" x2="541.45" y2="131.45" stroke="#FF0000" stroke-width="1.15" />
<rect x="534.95" y="93.08" width="13.00" height="16.19" fill="none" stroke="#FF0000" stroke-width="1.15" />
<line x1="534.95" y1="99.42" x2="547.95" y2="99.42" stroke="#FF0000" stroke-width="1.6" />
<ellipse cx="541.45" cy="152.22" rx="2.2" ry="1.55" fill="#FF0000"/>
<line x1="555.35" y1="137.44" x2="555.35" y2="132.51" stroke="#0000FF" stroke-width="1.15" />
<line x1="555.35" y1="143.77" x2="555.35" y2="152.57" stroke="#0000FF" stroke-width="1.15" />
<rect x="552.05" y="137.44" width="6.60" height="6.34" fill="none" stroke="#0000FF" stroke-width="1.15" />
<line x1="552.05" y1="140.96" x2="558.65" y2="140.96" stroke="#0000FF" stroke-width="1.6" />
<ellipse cx="555.35" cy="155.04" rx="2.2" ry="1.55" fill="#0000FF"/>
<line x1="562.25" y1="132.51" x2="562.25" y2="119.48" stroke="#FF0000" stroke-width="1.15" />
<line x1="562.25" y1="140.25" x2="562.25" y2="153.98" stroke="#FF0000" stroke-width="1.15" />
<rect x="558.95" y="132.51" width="6.60" height="7.74" fill="none" stroke="#FF0000" stroke-width="1.15" />
<line x1="558.95" y1="136.73" x2="565.55" y2="136.73" stroke="#FF0000" stroke-width="1.6" />
<ellipse cx="562.25" cy="108.22" rx="2.2" ry="1.55" fill="#FF0000"/>
<ellipse cx="562.25" cy="111.74" rx="2.2" ry="1.55" fill="#FF0000"/>
<ellipse cx="562.25" cy="113.50" rx="2.2" ry="1.55" fill="#FF0000"/>
<ellipse cx="562.25" cy="115.61" rx="2.2" ry="1.55" fill="#FF0000"/>
<ellipse cx="562.25" cy="119.13" rx="2.2" ry="1.55" fill="#FF0000"/>
<ellipse cx="562.25" cy="155.74" rx="2.2" ry="1.55" fill="#FF0000"/>
<ellipse cx="562.25" cy="157.85" rx="2.2" ry="1.55" fill="#FF0000"/>
<ellipse cx="562.25" cy="159.96" rx="2.2" ry="1.55" fill="#FF0000"/>
<ellipse cx="562.25" cy="161.37" rx="2.2" ry="1.55" fill="#FF0000"/>
<ellipse cx="562.25" cy="167.71" rx="2.2" ry="1.55" fill="#FF0000"/>
<text transform="translate(559.10,32.6) scale(1.4,1)" font-size="8.4" text-anchor="middle" fill="#000" >***</text>
<line x1="572.70" y1="108.22" x2="572.70" y2="106.46" stroke="#0000FF" stroke-width="1.15" />
<line x1="572.70" y1="111.74" x2="572.70" y2="112.44" stroke="#0000FF" stroke-width="1.15" />
<rect x="569.40" y="108.22" width="6.60" height="3.52" fill="none" stroke="#0000FF" stroke-width="1.15" />
<line x1="569.40" y1="109.63" x2="576.00" y2="109.63" stroke="#0000FF" stroke-width="1.6" />
<line x1="579.60" y1="117.37" x2="579.60" y2="99.77" stroke="#FF0000" stroke-width="1.15" />
<line x1="579.60" y1="129.34" x2="579.60" y2="142.72" stroke="#FF0000" stroke-width="1.15" />
<rect x="576.30" y="117.37" width="6.60" height="11.97" fill="none" stroke="#FF0000" stroke-width="1.15" />
<line x1="576.30" y1="123.36" x2="582.90" y2="123.36" stroke="#FF0000" stroke-width="1.6" />
<ellipse cx="579.60" cy="88.16" rx="2.2" ry="1.55" fill="#FF0000"/>
<ellipse cx="579.60" cy="96.60" rx="2.2" ry="1.55" fill="#FF0000"/>
<ellipse cx="579.60" cy="98.01" rx="2.2" ry="1.55" fill="#FF0000"/>
<ellipse cx="579.60" cy="99.07" rx="2.2" ry="1.55" fill="#FF0000"/>
<line x1="590.05" y1="129.34" x2="590.05" y2="118.43" stroke="#0000FF" stroke-width="1.15" />
<line x1="590.05" y1="140.25" x2="590.05" y2="144.12" stroke="#0000FF" stroke-width="1.15" />
<rect x="586.75" y="129.34" width="6.60" height="10.91" fill="none" stroke="#0000FF" stroke-width="1.15" />
<line x1="586.75" y1="131.45" x2="593.35" y2="131.45" stroke="#0000FF" stroke-width="1.6" />
<line x1="596.95" y1="108.57" x2="596.95" y2="80.06" stroke="#FF0000" stroke-width="1.15" />
<line x1="596.95" y1="128.28" x2="596.95" y2="153.63" stroke="#FF0000" stroke-width="1.15" />
<rect x="593.65" y="108.57" width="6.60" height="19.71" fill="none" stroke="#FF0000" stroke-width="1.15" />
<line x1="593.65" y1="119.48" x2="600.25" y2="119.48" stroke="#FF0000" stroke-width="1.6" />
<ellipse cx="596.95" cy="60.00" rx="2.2" ry="1.55" fill="#FF0000"/>
<ellipse cx="596.95" cy="64.92" rx="2.2" ry="1.55" fill="#FF0000"/>
<ellipse cx="596.95" cy="66.68" rx="2.2" ry="1.55" fill="#FF0000"/>
<ellipse cx="596.95" cy="68.44" rx="2.2" ry="1.55" fill="#FF0000"/>
<ellipse cx="596.95" cy="70.20" rx="2.2" ry="1.55" fill="#FF0000"/>
<ellipse cx="596.95" cy="71.96" rx="2.2" ry="1.55" fill="#FF0000"/>
<ellipse cx="596.95" cy="73.72" rx="2.2" ry="1.55" fill="#FF0000"/>
<ellipse cx="596.95" cy="75.48" rx="2.2" ry="1.55" fill="#FF0000"/>
<ellipse cx="596.95" cy="77.60" rx="2.2" ry="1.55" fill="#FF0000"/>
<ellipse cx="596.95" cy="160.67" rx="2.2" ry="1.55" fill="#FF0000"/>
<text transform="translate(593.80,32.6) scale(1.4,1)" font-size="8.4" text-anchor="middle" fill="#000" >***</text>
<line x1="610.85" y1="101.53" x2="610.85" y2="86.40" stroke="#FF0000" stroke-width="1.15" />
<line x1="610.85" y1="122.30" x2="610.85" y2="139.90" stroke="#FF0000" stroke-width="1.15" />
<rect x="604.35" y="101.53" width="13.00" height="20.77" fill="none" stroke="#FF0000" stroke-width="1.15" />
<line x1="604.35" y1="114.91" x2="617.35" y2="114.91" stroke="#FF0000" stroke-width="1.6" />
<ellipse cx="610.85" cy="66.33" rx="2.2" ry="1.55" fill="#FF0000"/>
<ellipse cx="610.85" cy="65.63" rx="2.2" ry="1.55" fill="#FF0000"/>
<line x1="628.20" y1="100.48" x2="628.20" y2="76.89" stroke="#FF0000" stroke-width="1.15" />
<line x1="628.20" y1="117.37" x2="628.20" y2="134.97" stroke="#FF0000" stroke-width="1.15" />
<rect x="621.70" y="100.48" width="13.00" height="16.90" fill="none" stroke="#FF0000" stroke-width="1.15" />
<line x1="621.70" y1="105.76" x2="634.70" y2="105.76" stroke="#FF0000" stroke-width="1.6" />
<ellipse cx="628.20" cy="144.48" rx="2.2" ry="1.55" fill="#FF0000"/>
</g>
<line x1="62.00" y1="200.90" x2="638.80" y2="200.90" stroke="#8c8c8c" stroke-width="1.5" />
<line x1="62.60" y1="24.50" x2="62.60" y2="201.20" stroke="#111" stroke-width="1.25" />
<line x1="59.40" y1="183.90" x2="62.50" y2="183.90" stroke="#000" stroke-width="1.1" />
<text transform="translate(57.4,187.10) scale(1.55,1)" font-size="8.9" text-anchor="end" fill="#000" >2</text>
<line x1="59.40" y1="148.70" x2="62.50" y2="148.70" stroke="#000" stroke-width="1.1" />
<text transform="translate(57.4,151.90) scale(1.55,1)" font-size="8.9" text-anchor="end" fill="#000" >3</text>
<line x1="59.40" y1="113.50" x2="62.50" y2="113.50" stroke="#000" stroke-width="1.1" />
<text transform="translate(57.4,116.70) scale(1.55,1)" font-size="8.9" text-anchor="end" fill="#000" >4</text>
<line x1="59.40" y1="78.30" x2="62.50" y2="78.30" stroke="#000" stroke-width="1.1" />
<text transform="translate(57.4,81.50) scale(1.55,1)" font-size="8.9" text-anchor="end" fill="#000" >5</text>
<line x1="59.40" y1="43.10" x2="62.50" y2="43.10" stroke="#000" stroke-width="1.1" />
<text transform="translate(57.4,46.30) scale(1.55,1)" font-size="8.9" text-anchor="end" fill="#000" >6</text>
<line x1="73.00" y1="201.60" x2="73.00" y2="203.20" stroke="#222" stroke-width="1.2" />
<text transform="translate(81.00,209.6) scale(1.22,1) rotate(-50)" font-size="9.3" text-anchor="end" fill="#000" letter-spacing="-0.2">ACC</text>
<line x1="90.35" y1="201.60" x2="90.35" y2="203.20" stroke="#222" stroke-width="1.2" />
<text transform="translate(98.35,209.6) scale(1.22,1) rotate(-50)" font-size="9.3" text-anchor="end" fill="#000" letter-spacing="-0.2">BLCA</text>
<line x1="107.70" y1="201.60" x2="107.70" y2="203.20" stroke="#222" stroke-width="1.2" />
<text transform="translate(115.70,209.6) scale(1.22,1) rotate(-50)" font-size="9.3" text-anchor="end" fill="#000" letter-spacing="-0.2">BRCA</text>
<line x1="125.05" y1="201.60" x2="125.05" y2="203.20" stroke="#222" stroke-width="1.2" />
<text transform="translate(133.05,209.6) scale(1.22,1) rotate(-50)" font-size="9.3" text-anchor="end" fill="#000" letter-spacing="-0.2">CESC</text>
<line x1="142.40" y1="201.60" x2="142.40" y2="203.20" stroke="#222" stroke-width="1.2" />
<text transform="translate(150.40,209.6) scale(1.22,1) rotate(-50)" font-size="9.3" text-anchor="end" fill="#000" letter-spacing="-0.2">CHOL</text>
<line x1="159.75" y1="201.60" x2="159.75" y2="203.20" stroke="#222" stroke-width="1.2" />
<text transform="translate(167.75,209.6) scale(1.22,1) rotate(-50)" font-size="9.3" text-anchor="end" fill="#000" letter-spacing="-0.2">COAD</text>
<line x1="177.10" y1="201.60" x2="177.10" y2="203.20" stroke="#222" stroke-width="1.2" />
<text transform="translate(185.10,209.6) scale(1.22,1) rotate(-50)" font-size="9.3" text-anchor="end" fill="#000" letter-spacing="-0.2">DLBC</text>
<line x1="194.45" y1="201.60" x2="194.45" y2="203.20" stroke="#222" stroke-width="1.2" />
<text transform="translate(202.45,209.6) scale(1.22,1) rotate(-50)" font-size="9.3" text-anchor="end" fill="#000" letter-spacing="-0.2">ESCA</text>
<line x1="211.80" y1="201.60" x2="211.80" y2="203.20" stroke="#222" stroke-width="1.2" />
<text transform="translate(219.80,209.6) scale(1.22,1) rotate(-50)" font-size="9.3" text-anchor="end" fill="#000" letter-spacing="-0.2">GBM</text>
<line x1="229.15" y1="201.60" x2="229.15" y2="203.20" stroke="#222" stroke-width="1.2" />
<text transform="translate(237.15,209.6) scale(1.22,1) rotate(-50)" font-size="9.3" text-anchor="end" fill="#000" letter-spacing="-0.2">HNSC</text>
<line x1="246.50" y1="201.60" x2="246.50" y2="203.20" stroke="#222" stroke-width="1.2" />
<text transform="translate(254.50,209.6) scale(1.22,1) rotate(-50)" font-size="9.3" text-anchor="end" fill="#000" letter-spacing="-0.2">KICH</text>
<line x1="263.85" y1="201.60" x2="263.85" y2="203.20" stroke="#222" stroke-width="1.2" />
<text transform="translate(271.85,209.6) scale(1.22,1) rotate(-50)" font-size="9.3" text-anchor="end" fill="#000" letter-spacing="-0.2">KIRC</text>
<line x1="281.20" y1="201.60" x2="281.20" y2="203.20" stroke="#222" stroke-width="1.2" />
<text transform="translate(289.20,209.6) scale(1.22,1) rotate(-50)" font-size="9.3" text-anchor="end" fill="#000" letter-spacing="-0.2">KIRP</text>
<line x1="298.55" y1="201.60" x2="298.55" y2="203.20" stroke="#222" stroke-width="1.2" />
<text transform="translate(306.55,209.6) scale(1.22,1) rotate(-50)" font-size="9.3" text-anchor="end" fill="#000" letter-spacing="-0.2">LAML</text>
<line x1="315.90" y1="201.60" x2="315.90" y2="203.20" stroke="#222" stroke-width="1.2" />
<text transform="translate(323.90,209.6) scale(1.22,1) rotate(-50)" font-size="9.3" text-anchor="end" fill="#000" letter-spacing="-0.2">LGG</text>
<line x1="333.25" y1="201.60" x2="333.25" y2="203.20" stroke="#222" stroke-width="1.2" />
<text transform="translate(341.25,209.6) scale(1.22,1) rotate(-50)" font-size="9.3" text-anchor="end" fill="#000" letter-spacing="-0.2">LIHC</text>
<line x1="350.60" y1="201.60" x2="350.60" y2="203.20" stroke="#222" stroke-width="1.2" />
<text transform="translate(358.60,209.6) scale(1.22,1) rotate(-50)" font-size="9.3" text-anchor="end" fill="#000" letter-spacing="-0.2">LUAD</text>
<line x1="367.95" y1="201.60" x2="367.95" y2="203.20" stroke="#222" stroke-width="1.2" />
<text transform="translate(375.95,209.6) scale(1.22,1) rotate(-50)" font-size="9.3" text-anchor="end" fill="#000" letter-spacing="-0.2">LUSC</text>
<line x1="385.30" y1="201.60" x2="385.30" y2="203.20" stroke="#222" stroke-width="1.2" />
<text transform="translate(393.30,209.6) scale(1.22,1) rotate(-50)" font-size="9.3" text-anchor="end" fill="#000" letter-spacing="-0.2">MESO</text>
<line x1="402.65" y1="201.60" x2="402.65" y2="203.20" stroke="#222" stroke-width="1.2" />
<text transform="translate(410.65,209.6) scale(1.22,1) rotate(-50)" font-size="9.3" text-anchor="end" fill="#000" letter-spacing="-0.2">OV</text>
<line x1="420.00" y1="201.60" x2="420.00" y2="203.20" stroke="#222" stroke-width="1.2" />
<text transform="translate(428.00,209.6) scale(1.22,1) rotate(-50)" font-size="9.3" text-anchor="end" fill="#000" letter-spacing="-0.2">PAAD</text>
<line x1="437.35" y1="201.60" x2="437.35" y2="203.20" stroke="#222" stroke-width="1.2" />
<text transform="translate(445.35,209.6) scale(1.22,1) rotate(-50)" font-size="9.3" text-anchor="end" fill="#000" letter-spacing="-0.2">PCPG</text>
<line x1="454.70" y1="201.60" x2="454.70" y2="203.20" stroke="#222" stroke-width="1.2" />
<text transform="translate(462.70,209.6) scale(1.22,1) rotate(-50)" font-size="9.3" text-anchor="end" fill="#000" letter-spacing="-0.2">PRAD</text>
<line x1="472.05" y1="201.60" x2="472.05" y2="203.20" stroke="#222" stroke-width="1.2" />
<text transform="translate(480.05,209.6) scale(1.22,1) rotate(-50)" font-size="9.3" text-anchor="end" fill="#000" letter-spacing="-0.2">READ</text>
<line x1="489.40" y1="201.60" x2="489.40" y2="203.20" stroke="#222" stroke-width="1.2" />
<text transform="translate(497.40,209.6) scale(1.22,1) rotate(-50)" font-size="9.3" text-anchor="end" fill="#000" letter-spacing="-0.2">SARC</text>
<line x1="506.75" y1="201.60" x2="506.75" y2="203.20" stroke="#222" stroke-width="1.2" />
<text transform="translate(514.75,209.6) scale(1.22,1) rotate(-50)" font-size="9.3" text-anchor="end" fill="#000" letter-spacing="-0.2">SKCM</text>
<line x1="524.10" y1="201.60" x2="524.10" y2="203.20" stroke="#222" stroke-width="1.2" />
<text transform="translate(532.10,209.6) scale(1.22,1) rotate(-50)" font-size="9.3" text-anchor="end" fill="#000" letter-spacing="-0.2">STAD</text>
<line x1="541.45" y1="201.60" x2="541.45" y2="203.20" stroke="#222" stroke-width="1.2" />
<text transform="translate(549.45,209.6) scale(1.22,1) rotate(-50)" font-size="9.3" text-anchor="end" fill="#000" letter-spacing="-0.2">TGCT</text>
<line x1="558.80" y1="201.60" x2="558.80" y2="203.20" stroke="#222" stroke-width="1.2" />
<text transform="translate(566.80,209.6) scale(1.22,1) rotate(-50)" font-size="9.3" text-anchor="end" fill="#000" letter-spacing="-0.2">THCA</text>
<line x1="576.15" y1="201.60" x2="576.15" y2="203.20" stroke="#222" stroke-width="1.2" />
<text transform="translate(584.15,209.6) scale(1.22,1) rotate(-50)" font-size="9.3" text-anchor="end" fill="#000" letter-spacing="-0.2">THYM</text>
<line x1="593.50" y1="201.60" x2="593.50" y2="203.20" stroke="#222" stroke-width="1.2" />
<text transform="translate(601.50,209.6) scale(1.22,1) rotate(-50)" font-size="9.3" text-anchor="end" fill="#000" letter-spacing="-0.2">UCEC</text>
<line x1="610.85" y1="201.60" x2="610.85" y2="203.20" stroke="#222" stroke-width="1.2" />
<text transform="translate(618.85,209.6) scale(1.22,1) rotate(-50)" font-size="9.3" text-anchor="end" fill="#000" letter-spacing="-0.2">UCS</text>
<line x1="628.20" y1="201.60" x2="628.20" y2="203.20" stroke="#222" stroke-width="1.2" />
<text transform="translate(636.20,209.6) scale(1.22,1) rotate(-50)" font-size="9.3" text-anchor="end" fill="#000" letter-spacing="-0.2">UVM</text>
<text transform="translate(43.9,113.3) scale(1.5,1) rotate(-90)" font-size="8.45" text-anchor="middle" fill="#000" >NPLOC4 expression</text>
<text transform="translate(274.2,9.2) scale(1.4,1)" font-size="8.4" text-anchor="start" fill="#000" >Type</text>
<rect x="309.10" y="2.40" width="14.80" height="6.90" fill="none" stroke="#0000FF" stroke-width="1.2" />
<line x1="309.10" y1="5.85" x2="323.90" y2="5.85" stroke="#0000FF" stroke-width="1.2" />
<line x1="316.50" y1="0.60" x2="316.50" y2="2.40" stroke="#0000FF" stroke-width="1.2" />
<line x1="316.50" y1="9.30" x2="316.50" y2="11.00" stroke="#0000FF" stroke-width="1.2" />
<text transform="translate(332.30,9.2) scale(1.3,1)" font-size="8.4" text-anchor="start" fill="#000" >Normal</text>
<rect x="374.90" y="2.40" width="14.80" height="6.90" fill="none" stroke="#FF0000" stroke-width="1.2" />
<line x1="374.90" y1="5.85" x2="389.70" y2="5.85" stroke="#FF0000" stroke-width="1.2" />
<line x1="382.30" y1="0.60" x2="382.30" y2="2.40" stroke="#FF0000" stroke-width="1.2" />
<line x1="382.30" y1="9.30" x2="382.30" y2="11.00" stroke="#FF0000" stroke-width="1.2" />
<text transform="translate(398.10,9.2) scale(1.3,1)" font-size="8.4" text-anchor="start" fill="#000" >Tumor</text>
<rect x="39.80" y="271.80" width="209.60" height="150.60" fill="none" stroke="#444" stroke-width="1" />
<line x1="35.00" y1="417.30" x2="39.80" y2="417.30" stroke="#444" stroke-width="1" />
<text transform="translate(30.2,417.30) rotate(-90)" font-size="7.7" text-anchor="middle" fill="#000" >0</text>
<line x1="35.00" y1="382.30" x2="39.80" y2="382.30" stroke="#444" stroke-width="1" />
<text transform="translate(30.2,382.30) rotate(-90)" font-size="7.7" text-anchor="middle" fill="#000" >20</text>
<line x1="35.00" y1="347.30" x2="39.80" y2="347.30" stroke="#444" stroke-width="1" />
<text transform="translate(30.2,347.30) rotate(-90)" font-size="7.7" text-anchor="middle" fill="#000" >40</text>
<line x1="35.00" y1="312.30" x2="39.80" y2="312.30" stroke="#444" stroke-width="1" />
<text transform="translate(30.2,312.30) rotate(-90)" font-size="7.7" text-anchor="middle" fill="#000" >60</text>
<line x1="35.00" y1="277.30" x2="39.80" y2="277.30" stroke="#444" stroke-width="1" />
<text transform="translate(30.2,277.30) rotate(-90)" font-size="7.7" text-anchor="middle" fill="#000" >80</text>
<text transform="translate(13.4,347.8) scale(0.9,1) rotate(-90)" font-size="9.4" text-anchor="middle" fill="#000" >NPLOC4 expression</text>
<line x1="96.20" y1="422.40" x2="96.20" y2="426.20" stroke="#444" stroke-width="1" />
<text x="96.20" y="438.00" font-size="8.0" text-anchor="middle" fill="#000" >Normal</text>
<line x1="193.50" y1="422.40" x2="193.50" y2="426.20" stroke="#444" stroke-width="1" />
<text x="193.50" y="438.00" font-size="8.0" text-anchor="middle" fill="#000" >Tumor</text>
<polyline points="96.10,290.60 96.10,286.10 193.40,286.10 193.40,290.60" fill="none" stroke="#555" stroke-width="0.9" />
<text x="144.50" y="282.60" font-size="8.2" text-anchor="middle" fill="#000" >p=3.493e−23</text>
<rect x="57.30" y="395.30" width="77.90" height="4.30" fill="none" stroke="#666" stroke-width="0.9" />
<line x1="77.00" y1="391.20" x2="115.80" y2="391.20" stroke="#888" stroke-width="1" />
<line x1="77.00" y1="404.10" x2="115.80" y2="404.10" stroke="#888" stroke-width="1" />
<line x1="174.00" y1="355.30" x2="213.00" y2="355.30" stroke="#888" stroke-width="1" />
<line x1="174.00" y1="407.50" x2="213.00" y2="407.50" stroke="#888" stroke-width="1" />
<circle cx="96.20" cy="397.77" r="1.75" fill="#0000FF"/>
<circle cx="99.70" cy="397.77" r="1.75" fill="#0000FF"/>
<circle cx="92.70" cy="397.38" r="1.75" fill="#0000FF"/>
<circle cx="103.20" cy="398.01" r="1.75" fill="#0000FF"/>
<circle cx="89.20" cy="397.56" r="1.75" fill="#0000FF"/>
<circle cx="106.70" cy="398.00" r="1.75" fill="#0000FF"/>
<circle cx="85.70" cy="397.29" r="1.75" fill="#0000FF"/>
<circle cx="110.20" cy="397.48" r="1.75" fill="#0000FF"/>
<circle cx="82.20" cy="397.24" r="1.75" fill="#0000FF"/>
<circle cx="113.70" cy="397.63" r="1.75" fill="#0000FF"/>
<circle cx="78.70" cy="397.44" r="1.75" fill="#0000FF"/>
<circle cx="117.20" cy="397.59" r="1.75" fill="#0000FF"/>
<circle cx="75.20" cy="397.68" r="1.75" fill="#0000FF"/>
<circle cx="120.70" cy="397.49" r="1.75" fill="#0000FF"/>
<circle cx="71.70" cy="397.79" r="1.75" fill="#0000FF"/>
<circle cx="124.20" cy="397.60" r="1.75" fill="#0000FF"/>
<circle cx="68.20" cy="397.38" r="1.75" fill="#0000FF"/>
<circle cx="127.70" cy="397.51" r="1.75" fill="#0000FF"/>
<circle cx="64.70" cy="397.61" r="1.75" fill="#0000FF"/>
<circle cx="131.20" cy="397.07" r="1.75" fill="#0000FF"/>
<circle cx="61.20" cy="397.51" r="1.75" fill="#0000FF"/>
<circle cx="96.70" cy="397.65" r="1.75" fill="#0000FF"/>
<circle cx="95.70" cy="397.49" r="1.75" fill="#0000FF"/>
<circle cx="100.20" cy="397.63" r="1.75" fill="#0000FF"/>
<circle cx="92.70" cy="395.73" r="1.75" fill="#0000FF"/>
<circle cx="102.70" cy="395.70" r="1.75" fill="#0000FF"/>
<circle cx="96.20" cy="393.83" r="1.75" fill="#0000FF"/>
<circle cx="89.20" cy="395.41" r="1.75" fill="#0000FF"/>
<circle cx="106.20" cy="395.29" r="1.75" fill="#0000FF"/>
<circle cx="101.20" cy="394.89" r="1.75" fill="#0000FF"/>
<circle cx="92.70" cy="393.84" r="1.75" fill="#0000FF"/>
<circle cx="85.70" cy="395.60" r="1.75" fill="#0000FF"/>
<circle cx="109.70" cy="395.92" r="1.75" fill="#0000FF"/>
<circle cx="89.20" cy="393.48" r="1.75" fill="#0000FF"/>
<circle cx="82.70" cy="396.57" r="1.75" fill="#0000FF"/>
<circle cx="113.20" cy="395.71" r="1.75" fill="#0000FF"/>
<circle cx="104.70" cy="394.90" r="1.75" fill="#0000FF"/>
<circle cx="79.70" cy="397.65" r="1.75" fill="#0000FF"/>
<circle cx="94.20" cy="400.20" r="1.75" fill="#0000FF"/>
<circle cx="97.20" cy="401.36" r="1.75" fill="#0000FF"/>
<circle cx="92.70" cy="398.93" r="1.75" fill="#0000FF"/>
<circle cx="102.70" cy="399.86" r="1.75" fill="#0000FF"/>
<circle cx="89.20" cy="399.76" r="1.75" fill="#0000FF"/>
<circle cx="106.20" cy="399.09" r="1.75" fill="#0000FF"/>
<circle cx="85.70" cy="399.27" r="1.75" fill="#0000FF"/>
<circle cx="109.70" cy="399.22" r="1.75" fill="#0000FF"/>
<circle cx="82.20" cy="399.79" r="1.75" fill="#0000FF"/>
<circle cx="115.20" cy="398.43" r="1.75" fill="#0000FF"/>
<circle cx="76.20" cy="398.26" r="1.75" fill="#0000FF"/>
<circle cx="118.20" cy="399.42" r="1.75" fill="#0000FF"/>
<circle cx="85.70" cy="393.50" r="1.75" fill="#0000FF"/>
<circle cx="107.20" cy="392.80" r="1.75" fill="#0000FF"/>
<circle cx="98.20" cy="391.40" r="1.75" fill="#0000FF"/>
<circle cx="96.20" cy="404.35" r="1.75" fill="#0000FF"/>
<circle cx="99.70" cy="405.23" r="1.75" fill="#0000FF"/>
<circle cx="93.70" cy="406.45" r="1.75" fill="#0000FF"/>
<circle cx="90.20" cy="405.75" r="1.75" fill="#0000FF"/>
<circle cx="110.20" cy="394.20" r="1.75" fill="#0000FF"/>
<circle cx="100.70" cy="402.25" r="1.75" fill="#0000FF"/>
<line x1="57.30" y1="398.00" x2="135.20" y2="398.00" stroke="#000" stroke-width="1.2" />
<circle cx="193.50" cy="387.81" r="1.8" fill="#FF0000"/>
<circle cx="193.50" cy="374.97" r="1.8" fill="#FF0000"/>
<circle cx="196.50" cy="389.57" r="1.8" fill="#FF0000"/>
<circle cx="193.50" cy="384.46" r="1.8" fill="#FF0000"/>
<circle cx="193.50" cy="379.46" r="1.8" fill="#FF0000"/>
<circle cx="197.00" cy="384.95" r="1.8" fill="#FF0000"/>
<circle cx="193.50" cy="396.96" r="1.8" fill="#FF0000"/>
<circle cx="196.50" cy="373.45" r="1.8" fill="#FF0000"/>
<circle cx="191.00" cy="382.18" r="1.8" fill="#FF0000"/>
<circle cx="193.50" cy="366.13" r="1.8" fill="#FF0000"/>
<circle cx="190.00" cy="388.29" r="1.8" fill="#FF0000"/>
<circle cx="193.50" cy="392.71" r="1.8" fill="#FF0000"/>
<circle cx="196.50" cy="395.66" r="1.8" fill="#FF0000"/>
<circle cx="190.00" cy="393.54" r="1.8" fill="#FF0000"/>
<circle cx="196.00" cy="381.83" r="1.8" fill="#FF0000"/>
<circle cx="188.00" cy="383.85" r="1.8" fill="#FF0000"/>
<circle cx="200.00" cy="383.60" r="1.8" fill="#FF0000"/>
<circle cx="199.50" cy="387.19" r="1.8" fill="#FF0000"/>
<circle cx="190.50" cy="372.99" r="1.8" fill="#FF0000"/>
<circle cx="199.50" cy="391.30" r="1.8" fill="#FF0000"/>
<circle cx="190.00" cy="378.92" r="1.8" fill="#FF0000"/>
<circle cx="184.50" cy="383.89" r="1.8" fill="#FF0000"/>
<circle cx="186.50" cy="393.08" r="1.8" fill="#FF0000"/>
<circle cx="186.50" cy="388.88" r="1.8" fill="#FF0000"/>
<circle cx="195.50" cy="399.72" r="1.8" fill="#FF0000"/>
<circle cx="190.50" cy="398.61" r="1.8" fill="#FF0000"/>
<circle cx="203.00" cy="392.14" r="1.8" fill="#FF0000"/>
<circle cx="200.00" cy="395.23" r="1.8" fill="#FF0000"/>
<circle cx="197.00" cy="366.46" r="1.8" fill="#FF0000"/>
<circle cx="199.00" cy="379.83" r="1.8" fill="#FF0000"/>
<circle cx="183.00" cy="389.59" r="1.8" fill="#FF0000"/>
<circle cx="188.50" cy="375.54" r="1.8" fill="#FF0000"/>
<circle cx="183.50" cy="394.38" r="1.8" fill="#FF0000"/>
<circle cx="200.00" cy="373.75" r="1.8" fill="#FF0000"/>
<circle cx="194.50" cy="369.23" r="1.8" fill="#FF0000"/>
<circle cx="186.00" cy="373.44" r="1.8" fill="#FF0000"/>
<circle cx="203.50" cy="383.37" r="1.8" fill="#FF0000"/>
<circle cx="198.00" cy="370.45" r="1.8" fill="#FF0000"/>
<circle cx="203.00" cy="388.23" r="1.8" fill="#FF0000"/>
<circle cx="197.00" cy="376.64" r="1.8" fill="#FF0000"/>
<circle cx="193.50" cy="404.52" r="1.8" fill="#FF0000"/>
<circle cx="186.00" cy="378.05" r="1.8" fill="#FF0000"/>
<circle cx="181.00" cy="382.93" r="1.8" fill="#FF0000"/>
<circle cx="199.00" cy="399.24" r="1.8" fill="#FF0000"/>
<circle cx="187.00" cy="398.74" r="1.8" fill="#FF0000"/>
<circle cx="202.50" cy="379.26" r="1.8" fill="#FF0000"/>
<circle cx="191.00" cy="369.49" r="1.8" fill="#FF0000"/>
<circle cx="183.50" cy="380.27" r="1.8" fill="#FF0000"/>
<circle cx="203.00" cy="375.72" r="1.8" fill="#FF0000"/>
<circle cx="206.00" cy="385.49" r="1.8" fill="#FF0000"/>
<circle cx="208.50" cy="383.41" r="1.8" fill="#FF0000"/>
<circle cx="182.00" cy="386.07" r="1.8" fill="#FF0000"/>
<circle cx="203.00" cy="372.11" r="1.8" fill="#FF0000"/>
<circle cx="179.00" cy="387.71" r="1.8" fill="#FF0000"/>
<circle cx="182.50" cy="373.58" r="1.8" fill="#FF0000"/>
<circle cx="178.00" cy="381.61" r="1.8" fill="#FF0000"/>
<circle cx="206.50" cy="371.90" r="1.8" fill="#FF0000"/>
<circle cx="195.50" cy="363.47" r="1.8" fill="#FF0000"/>
<circle cx="193.50" cy="358.65" r="1.8" fill="#FF0000"/>
<circle cx="203.50" cy="395.45" r="1.8" fill="#FF0000"/>
<circle cx="206.50" cy="375.46" r="1.8" fill="#FF0000"/>
<circle cx="177.00" cy="384.98" r="1.8" fill="#FF0000"/>
<circle cx="206.00" cy="381.07" r="1.8" fill="#FF0000"/>
<circle cx="212.00" cy="383.63" r="1.8" fill="#FF0000"/>
<circle cx="174.50" cy="380.88" r="1.8" fill="#FF0000"/>
<circle cx="181.00" cy="396.67" r="1.8" fill="#FF0000"/>
<circle cx="206.50" cy="396.76" r="1.8" fill="#FF0000"/>
<circle cx="206.50" cy="393.08" r="1.8" fill="#FF0000"/>
<circle cx="210.00" cy="386.30" r="1.8" fill="#FF0000"/>
<circle cx="173.50" cy="384.23" r="1.8" fill="#FF0000"/>
<circle cx="180.00" cy="391.03" r="1.8" fill="#FF0000"/>
<circle cx="206.00" cy="389.40" r="1.8" fill="#FF0000"/>
<circle cx="182.50" cy="377.17" r="1.8" fill="#FF0000"/>
<circle cx="210.00" cy="392.35" r="1.8" fill="#FF0000"/>
<circle cx="196.50" cy="406.17" r="1.8" fill="#FF0000"/>
<circle cx="202.50" cy="399.78" r="1.8" fill="#FF0000"/>
<circle cx="209.00" cy="379.66" r="1.8" fill="#FF0000"/>
<circle cx="215.50" cy="383.81" r="1.8" fill="#FF0000"/>
<circle cx="178.50" cy="394.55" r="1.8" fill="#FF0000"/>
<circle cx="175.00" cy="387.70" r="1.8" fill="#FF0000"/>
<circle cx="179.50" cy="378.65" r="1.8" fill="#FF0000"/>
<circle cx="213.00" cy="380.45" r="1.8" fill="#FF0000"/>
<circle cx="176.00" cy="377.89" r="1.8" fill="#FF0000"/>
<circle cx="190.00" cy="404.63" r="1.8" fill="#FF0000"/>
<circle cx="175.00" cy="393.88" r="1.8" fill="#FF0000"/>
<circle cx="210.00" cy="376.41" r="1.8" fill="#FF0000"/>
<circle cx="213.50" cy="392.88" r="1.8" fill="#FF0000"/>
<circle cx="172.00" cy="392.44" r="1.8" fill="#FF0000"/>
<circle cx="176.50" cy="390.57" r="1.8" fill="#FF0000"/>
<circle cx="188.00" cy="370.66" r="1.8" fill="#FF0000"/>
<circle cx="170.50" cy="382.65" r="1.8" fill="#FF0000"/>
<circle cx="179.00" cy="372.64" r="1.8" fill="#FF0000"/>
<circle cx="211.50" cy="373.55" r="1.8" fill="#FF0000"/>
<circle cx="184.50" cy="370.17" r="1.8" fill="#FF0000"/>
<circle cx="175.50" cy="372.02" r="1.8" fill="#FF0000"/>
<circle cx="173.50" cy="375.57" r="1.8" fill="#FF0000"/>
<circle cx="210.00" cy="395.63" r="1.8" fill="#FF0000"/>
<circle cx="213.50" cy="387.32" r="1.8" fill="#FF0000"/>
<circle cx="215.00" cy="377.87" r="1.8" fill="#FF0000"/>
<circle cx="178.00" cy="398.37" r="1.8" fill="#FF0000"/>
<circle cx="170.00" cy="376.68" r="1.8" fill="#FF0000"/>
<circle cx="217.00" cy="375.34" r="1.8" fill="#FF0000"/>
<circle cx="220.00" cy="376.79" r="1.8" fill="#FF0000"/>
<circle cx="209.50" cy="370.42" r="1.8" fill="#FF0000"/>
<circle cx="218.00" cy="381.55" r="1.8" fill="#FF0000"/>
<circle cx="192.00" cy="362.60" r="1.8" fill="#FF0000"/>
<circle cx="168.00" cy="380.20" r="1.8" fill="#FF0000"/>
<circle cx="183.50" cy="398.99" r="1.8" fill="#FF0000"/>
<circle cx="167.00" cy="375.15" r="1.8" fill="#FF0000"/>
<circle cx="213.50" cy="370.88" r="1.8" fill="#FF0000"/>
<circle cx="221.00" cy="379.90" r="1.8" fill="#FF0000"/>
<circle cx="223.50" cy="375.77" r="1.8" fill="#FF0000"/>
<circle cx="165.00" cy="382.04" r="1.8" fill="#FF0000"/>
<circle cx="222.50" cy="382.92" r="1.8" fill="#FF0000"/>
<circle cx="174.50" cy="397.06" r="1.8" fill="#FF0000"/>
<circle cx="224.50" cy="379.78" r="1.8" fill="#FF0000"/>
<circle cx="206.00" cy="400.85" r="1.8" fill="#FF0000"/>
<circle cx="172.00" cy="371.10" r="1.8" fill="#FF0000"/>
<circle cx="163.50" cy="374.34" r="1.8" fill="#FF0000"/>
<circle cx="217.00" cy="392.99" r="1.8" fill="#FF0000"/>
<circle cx="226.50" cy="374.30" r="1.8" fill="#FF0000"/>
<circle cx="169.00" cy="372.59" r="1.8" fill="#FF0000"/>
<circle cx="218.50" cy="385.21" r="1.8" fill="#FF0000"/>
<circle cx="161.50" cy="382.95" r="1.8" fill="#FF0000"/>
<circle cx="219.50" cy="372.91" r="1.8" fill="#FF0000"/>
<circle cx="170.50" cy="386.21" r="1.8" fill="#FF0000"/>
<circle cx="227.50" cy="381.43" r="1.8" fill="#FF0000"/>
<circle cx="160.50" cy="375.74" r="1.8" fill="#FF0000"/>
<circle cx="163.00" cy="379.35" r="1.8" fill="#FF0000"/>
<circle cx="223.00" cy="372.47" r="1.8" fill="#FF0000"/>
<circle cx="166.00" cy="370.93" r="1.8" fill="#FF0000"/>
<circle cx="181.00" cy="370.10" r="1.8" fill="#FF0000"/>
<circle cx="227.50" cy="378.12" r="1.8" fill="#FF0000"/>
<circle cx="158.00" cy="373.40" r="1.8" fill="#FF0000"/>
<circle cx="169.00" cy="394.40" r="1.8" fill="#FF0000"/>
<circle cx="167.50" cy="384.91" r="1.8" fill="#FF0000"/>
<circle cx="188.50" cy="363.41" r="1.8" fill="#FF0000"/>
<circle cx="225.50" cy="384.20" r="1.8" fill="#FF0000"/>
<circle cx="158.50" cy="384.41" r="1.8" fill="#FF0000"/>
<circle cx="220.00" cy="394.82" r="1.8" fill="#FF0000"/>
<circle cx="214.50" cy="395.95" r="1.8" fill="#FF0000"/>
<circle cx="196.50" cy="357.08" r="1.8" fill="#FF0000"/>
<circle cx="230.00" cy="375.90" r="1.8" fill="#FF0000"/>
<circle cx="165.50" cy="394.31" r="1.8" fill="#FF0000"/>
<circle cx="157.50" cy="376.93" r="1.8" fill="#FF0000"/>
<circle cx="223.50" cy="395.85" r="1.8" fill="#FF0000"/>
<circle cx="221.50" cy="386.82" r="1.8" fill="#FF0000"/>
<circle cx="230.00" cy="383.86" r="1.8" fill="#FF0000"/>
<circle cx="232.00" cy="373.12" r="1.8" fill="#FF0000"/>
<circle cx="217.00" cy="388.43" r="1.8" fill="#FF0000"/>
<circle cx="162.00" cy="371.47" r="1.8" fill="#FF0000"/>
<circle cx="155.00" cy="385.05" r="1.8" fill="#FF0000"/>
<circle cx="164.50" cy="386.20" r="1.8" fill="#FF0000"/>
<circle cx="233.00" cy="377.39" r="1.8" fill="#FF0000"/>
<circle cx="193.50" cy="349.24" r="1.8" fill="#FF0000"/>
<circle cx="162.50" cy="393.13" r="1.8" fill="#FF0000"/>
<circle cx="228.00" cy="386.42" r="1.8" fill="#FF0000"/>
<circle cx="161.00" cy="387.25" r="1.8" fill="#FF0000"/>
<circle cx="225.00" cy="387.73" r="1.8" fill="#FF0000"/>
<circle cx="157.50" cy="387.56" r="1.8" fill="#FF0000"/>
<circle cx="227.00" cy="394.90" r="1.8" fill="#FF0000"/>
<circle cx="209.50" cy="400.30" r="1.8" fill="#FF0000"/>
<circle cx="201.00" cy="368.52" r="1.8" fill="#FF0000"/>
<circle cx="154.50" cy="378.72" r="1.8" fill="#FF0000"/>
<circle cx="155.00" cy="372.02" r="1.8" fill="#FF0000"/>
<circle cx="152.00" cy="373.50" r="1.8" fill="#FF0000"/>
<circle cx="160.00" cy="395.37" r="1.8" fill="#FF0000"/>
<circle cx="222.00" cy="392.00" r="1.8" fill="#FF0000"/>
<circle cx="168.00" cy="388.27" r="1.8" fill="#FF0000"/>
<circle cx="236.50" cy="376.28" r="1.8" fill="#FF0000"/>
<circle cx="149.00" cy="375.21" r="1.8" fill="#FF0000"/>
<circle cx="194.50" cy="376.81" r="1.8" fill="#FF0000"/>
<circle cx="180.50" cy="400.45" r="1.8" fill="#FF0000"/>
<circle cx="157.00" cy="381.43" r="1.8" fill="#FF0000"/>
<circle cx="192.00" cy="377.63" r="1.8" fill="#FF0000"/>
<circle cx="193.50" cy="339.25" r="1.8" fill="#FF0000"/>
<circle cx="230.50" cy="395.49" r="1.8" fill="#FF0000"/>
<circle cx="232.50" cy="386.35" r="1.8" fill="#FF0000"/>
<circle cx="198.00" cy="376.27" r="1.8" fill="#FF0000"/>
<circle cx="156.50" cy="394.21" r="1.8" fill="#FF0000"/>
<circle cx="188.50" cy="376.54" r="1.8" fill="#FF0000"/>
<circle cx="152.00" cy="386.34" r="1.8" fill="#FF0000"/>
<circle cx="236.00" cy="385.59" r="1.8" fill="#FF0000"/>
<circle cx="233.50" cy="393.97" r="1.8" fill="#FF0000"/>
<circle cx="171.00" cy="397.66" r="1.8" fill="#FF0000"/>
<circle cx="201.50" cy="375.47" r="1.8" fill="#FF0000"/>
<circle cx="185.50" cy="374.61" r="1.8" fill="#FF0000"/>
<circle cx="231.00" cy="380.61" r="1.8" fill="#FF0000"/>
<circle cx="163.50" cy="396.96" r="1.8" fill="#FF0000"/>
<circle cx="149.00" cy="384.75" r="1.8" fill="#FF0000"/>
<circle cx="194.00" cy="386.33" r="1.8" fill="#FF0000"/>
<circle cx="228.00" cy="371.26" r="1.8" fill="#FF0000"/>
<circle cx="191.00" cy="383.81" r="1.8" fill="#FF0000"/>
<circle cx="189.00" cy="366.67" r="1.8" fill="#FF0000"/>
<circle cx="234.50" cy="381.07" r="1.8" fill="#FF0000"/>
<circle cx="163.50" cy="389.28" r="1.8" fill="#FF0000"/>
<circle cx="182.50" cy="375.93" r="1.8" fill="#FF0000"/>
<circle cx="167.00" cy="391.44" r="1.8" fill="#FF0000"/>
<circle cx="235.00" cy="371.72" r="1.8" fill="#FF0000"/>
<circle cx="153.50" cy="395.62" r="1.8" fill="#FF0000"/>
<circle cx="204.50" cy="376.65" r="1.8" fill="#FF0000"/>
<circle cx="197.50" cy="386.08" r="1.8" fill="#FF0000"/>
<circle cx="191.00" cy="374.09" r="1.8" fill="#FF0000"/>
<circle cx="160.50" cy="390.57" r="1.8" fill="#FF0000"/>
<circle cx="238.50" cy="372.83" r="1.8" fill="#FF0000"/>
<circle cx="152.00" cy="392.68" r="1.8" fill="#FF0000"/>
<circle cx="153.00" cy="382.28" r="1.8" fill="#FF0000"/>
<circle cx="236.50" cy="392.51" r="1.8" fill="#FF0000"/>
<circle cx="149.00" cy="394.09" r="1.8" fill="#FF0000"/>
<circle cx="187.50" cy="384.06" r="1.8" fill="#FF0000"/>
<circle cx="196.50" cy="350.86" r="1.8" fill="#FF0000"/>
<circle cx="197.00" cy="402.69" r="1.8" fill="#FF0000"/>
<circle cx="225.50" cy="391.65" r="1.8" fill="#FF0000"/>
<circle cx="150.00" cy="380.72" r="1.8" fill="#FF0000"/>
<circle cx="238.00" cy="380.38" r="1.8" fill="#FF0000"/>
<circle cx="194.00" cy="393.92" r="1.8" fill="#FF0000"/>
<circle cx="196.50" cy="379.45" r="1.8" fill="#FF0000"/>
<circle cx="229.00" cy="391.57" r="1.8" fill="#FF0000"/>
<circle cx="189.50" cy="379.92" r="1.8" fill="#FF0000"/>
<circle cx="201.00" cy="385.07" r="1.8" fill="#FF0000"/>
<circle cx="191.00" cy="392.94" r="1.8" fill="#FF0000"/>
<circle cx="149.00" cy="388.32" r="1.8" fill="#FF0000"/>
<circle cx="157.00" cy="390.94" r="1.8" fill="#FF0000"/>
<circle cx="190.50" cy="356.64" r="1.8" fill="#FF0000"/>
<circle cx="200.00" cy="380.47" r="1.8" fill="#FF0000"/>
<circle cx="191.50" cy="387.14" r="1.8" fill="#FF0000"/>
<circle cx="207.00" cy="374.55" r="1.8" fill="#FF0000"/>
<circle cx="185.50" cy="381.48" r="1.8" fill="#FF0000"/>
<circle cx="185.00" cy="378.29" r="1.8" fill="#FF0000"/>
<circle cx="185.00" cy="386.46" r="1.8" fill="#FF0000"/>
<circle cx="196.50" cy="372.10" r="1.8" fill="#FF0000"/>
<circle cx="203.50" cy="380.65" r="1.8" fill="#FF0000"/>
<circle cx="232.00" cy="389.78" r="1.8" fill="#FF0000"/>
<circle cx="182.00" cy="380.22" r="1.8" fill="#FF0000"/>
<circle cx="207.00" cy="380.51" r="1.8" fill="#FF0000"/>
<circle cx="178.50" cy="380.24" r="1.8" fill="#FF0000"/>
<circle cx="204.50" cy="368.65" r="1.8" fill="#FF0000"/>
<circle cx="210.00" cy="379.04" r="1.8" fill="#FF0000"/>
<circle cx="210.50" cy="382.23" r="1.8" fill="#FF0000"/>
<circle cx="204.00" cy="386.66" r="1.8" fill="#FF0000"/>
<circle cx="195.00" cy="383.21" r="1.8" fill="#FF0000"/>
<circle cx="154.00" cy="389.66" r="1.8" fill="#FF0000"/>
<circle cx="175.00" cy="380.41" r="1.8" fill="#FF0000"/>
<circle cx="213.50" cy="377.99" r="1.8" fill="#FF0000"/>
<circle cx="149.50" cy="371.42" r="1.8" fill="#FF0000"/>
<circle cx="151.50" cy="377.44" r="1.8" fill="#FF0000"/>
<circle cx="181.50" cy="387.16" r="1.8" fill="#FF0000"/>
<circle cx="196.50" cy="391.69" r="1.8" fill="#FF0000"/>
<circle cx="203.50" cy="372.75" r="1.8" fill="#FF0000"/>
<circle cx="217.50" cy="397.60" r="1.8" fill="#FF0000"/>
<circle cx="207.50" cy="386.28" r="1.8" fill="#FF0000"/>
<circle cx="179.00" cy="376.72" r="1.8" fill="#FF0000"/>
<circle cx="214.00" cy="382.57" r="1.8" fill="#FF0000"/>
<circle cx="172.00" cy="382.26" r="1.8" fill="#FF0000"/>
<circle cx="174.00" cy="377.26" r="1.8" fill="#FF0000"/>
<circle cx="216.50" cy="376.81" r="1.8" fill="#FF0000"/>
<circle cx="180.00" cy="384.17" r="1.8" fill="#FF0000"/>
<circle cx="176.50" cy="384.03" r="1.8" fill="#FF0000"/>
<circle cx="171.00" cy="378.87" r="1.8" fill="#FF0000"/>
<circle cx="199.00" cy="393.92" r="1.8" fill="#FF0000"/>
<circle cx="205.00" cy="383.55" r="1.8" fill="#FF0000"/>
<circle cx="193.50" cy="352.93" r="1.8" fill="#FF0000"/>
<circle cx="188.00" cy="387.76" r="1.8" fill="#FF0000"/>
<circle cx="188.00" cy="372.37" r="1.8" fill="#FF0000"/>
<circle cx="200.00" cy="406.41" r="1.8" fill="#FF0000"/>
<circle cx="210.00" cy="375.81" r="1.8" fill="#FF0000"/>
<circle cx="238.50" cy="389.67" r="1.8" fill="#FF0000"/>
<circle cx="211.50" cy="385.40" r="1.8" fill="#FF0000"/>
<circle cx="178.00" cy="387.38" r="1.8" fill="#FF0000"/>
<circle cx="200.00" cy="371.73" r="1.8" fill="#FF0000"/>
<circle cx="199.00" cy="362.80" r="1.8" fill="#FF0000"/>
<circle cx="185.00" cy="363.04" r="1.8" fill="#FF0000"/>
<circle cx="188.50" cy="395.44" r="1.8" fill="#FF0000"/>
<circle cx="199.50" cy="390.04" r="1.8" fill="#FF0000"/>
<circle cx="218.00" cy="379.79" r="1.8" fill="#FF0000"/>
<circle cx="168.50" cy="382.55" r="1.8" fill="#FF0000"/>
<circle cx="174.00" cy="386.07" r="1.8" fill="#FF0000"/>
<circle cx="183.00" cy="372.21" r="1.8" fill="#FF0000"/>
<circle cx="171.00" cy="375.58" r="1.8" fill="#FF0000"/>
<circle cx="167.50" cy="376.29" r="1.8" fill="#FF0000"/>
<circle cx="221.00" cy="381.78" r="1.8" fill="#FF0000"/>
<circle cx="187.50" cy="407.02" r="1.8" fill="#FF0000"/>
<circle cx="187.50" cy="390.98" r="1.8" fill="#FF0000"/>
<circle cx="202.50" cy="362.68" r="1.8" fill="#FF0000"/>
<circle cx="210.00" cy="388.77" r="1.8" fill="#FF0000"/>
<circle cx="214.50" cy="386.89" r="1.8" fill="#FF0000"/>
<circle cx="170.50" cy="386.95" r="1.8" fill="#FF0000"/>
<circle cx="218.00" cy="387.87" r="1.8" fill="#FF0000"/>
<circle cx="185.00" cy="394.46" r="1.8" fill="#FF0000"/>
<circle cx="179.50" cy="371.82" r="1.8" fill="#FF0000"/>
<circle cx="176.50" cy="373.58" r="1.8" fill="#FF0000"/>
<circle cx="202.50" cy="394.39" r="1.8" fill="#FF0000"/>
<circle cx="166.50" cy="379.42" r="1.8" fill="#FF0000"/>
<circle cx="217.50" cy="383.50" r="1.8" fill="#FF0000"/>
<circle cx="208.50" cy="371.53" r="1.8" fill="#FF0000"/>
<circle cx="166.00" cy="384.94" r="1.8" fill="#FF0000"/>
<circle cx="163.50" cy="382.64" r="1.8" fill="#FF0000"/>
<circle cx="213.00" cy="374.07" r="1.8" fill="#FF0000"/>
<circle cx="219.50" cy="374.98" r="1.8" fill="#FF0000"/>
<circle cx="221.50" cy="387.17" r="1.8" fill="#FF0000"/>
<circle cx="181.50" cy="394.25" r="1.8" fill="#FF0000"/>
<circle cx="204.50" cy="391.71" r="1.8" fill="#FF0000"/>
<circle cx="184.00" cy="389.94" r="1.8" fill="#FF0000"/>
<circle cx="224.50" cy="380.71" r="1.8" fill="#FF0000"/>
<circle cx="217.00" cy="370.13" r="1.8" fill="#FF0000"/>
<circle cx="163.00" cy="379.41" r="1.8" fill="#FF0000"/>
<circle cx="207.00" cy="393.89" r="1.8" fill="#FF0000"/>
<circle cx="179.00" cy="392.07" r="1.8" fill="#FF0000"/>
<circle cx="172.00" cy="389.07" r="1.8" fill="#FF0000"/>
<circle cx="210.50" cy="394.09" r="1.8" fill="#FF0000"/>
<circle cx="190.50" cy="350.45" r="1.8" fill="#FF0000"/>
<circle cx="176.00" cy="393.39" r="1.8" fill="#FF0000"/>
<circle cx="175.00" cy="389.20" r="1.8" fill="#FF0000"/>
<circle cx="216.50" cy="373.25" r="1.8" fill="#FF0000"/>
<circle cx="235.00" cy="396.94" r="1.8" fill="#FF0000"/>
<circle cx="221.00" cy="378.10" r="1.8" fill="#FF0000"/>
<circle cx="227.50" cy="378.81" r="1.8" fill="#FF0000"/>
<circle cx="224.50" cy="385.92" r="1.8" fill="#FF0000"/>
<circle cx="224.50" cy="377.40" r="1.8" fill="#FF0000"/>
<circle cx="213.00" cy="392.05" r="1.8" fill="#FF0000"/>
<circle cx="199.50" cy="358.37" r="1.8" fill="#FF0000"/>
<circle cx="227.00" cy="383.44" r="1.8" fill="#FF0000"/>
<circle cx="164.50" cy="374.97" r="1.8" fill="#FF0000"/>
<circle cx="159.50" cy="378.72" r="1.8" fill="#FF0000"/>
<circle cx="221.00" cy="369.93" r="1.8" fill="#FF0000"/>
<circle cx="193.50" cy="345.55" r="1.8" fill="#FF0000"/>
<circle cx="231.00" cy="378.56" r="1.8" fill="#FF0000"/>
<circle cx="157.00" cy="376.64" r="1.8" fill="#FF0000"/>
<circle cx="178.50" cy="395.42" r="1.8" fill="#FF0000"/>
<circle cx="173.00" cy="391.85" r="1.8" fill="#FF0000"/>
<circle cx="167.00" cy="388.09" r="1.8" fill="#FF0000"/>
<circle cx="223.00" cy="374.12" r="1.8" fill="#FF0000"/>
<circle cx="216.50" cy="392.68" r="1.8" fill="#FF0000"/>
<circle cx="154.00" cy="378.27" r="1.8" fill="#FF0000"/>
<circle cx="169.50" cy="390.93" r="1.8" fill="#FF0000"/>
<circle cx="220.00" cy="392.67" r="1.8" fill="#FF0000"/>
<circle cx="233.50" cy="376.50" r="1.8" fill="#FF0000"/>
<circle cx="185.50" cy="366.61" r="1.8" fill="#FF0000"/>
<circle cx="161.00" cy="375.14" r="1.8" fill="#FF0000"/>
<circle cx="166.00" cy="391.90" r="1.8" fill="#FF0000"/>
<circle cx="163.00" cy="386.65" r="1.8" fill="#FF0000"/>
<circle cx="182.00" cy="365.97" r="1.8" fill="#FF0000"/>
<circle cx="234.00" cy="379.88" r="1.8" fill="#FF0000"/>
<circle cx="223.00" cy="391.41" r="1.8" fill="#FF0000"/>
<circle cx="150.50" cy="378.40" r="1.8" fill="#FF0000"/>
<circle cx="175.50" cy="400.42" r="1.8" fill="#FF0000"/>
<circle cx="160.00" cy="383.80" r="1.8" fill="#FF0000"/>
<circle cx="157.00" cy="380.77" r="1.8" fill="#FF0000"/>
<circle cx="237.00" cy="378.48" r="1.8" fill="#FF0000"/>
<circle cx="238.00" cy="378.85" r="1.8" fill="#FF0000"/>
<circle cx="162.50" cy="392.05" r="1.8" fill="#FF0000"/>
<circle cx="227.00" cy="375.35" r="1.8" fill="#FF0000"/>
<circle cx="149.50" cy="377.56" r="1.8" fill="#FF0000"/>
<circle cx="226.50" cy="392.28" r="1.8" fill="#FF0000"/>
<circle cx="230.50" cy="382.55" r="1.8" fill="#FF0000"/>
<circle cx="213.50" cy="395.44" r="1.8" fill="#FF0000"/>
<circle cx="173.50" cy="395.50" r="1.8" fill="#FF0000"/>
<circle cx="151.50" cy="380.09" r="1.8" fill="#FF0000"/>
<circle cx="173.50" cy="371.77" r="1.8" fill="#FF0000"/>
<circle cx="157.00" cy="384.98" r="1.8" fill="#FF0000"/>
<circle cx="167.50" cy="397.58" r="1.8" fill="#FF0000"/>
<circle cx="224.50" cy="369.53" r="1.8" fill="#FF0000"/>
<circle cx="170.00" cy="372.52" r="1.8" fill="#FF0000"/>
<circle cx="212.50" cy="398.67" r="1.8" fill="#FF0000"/>
<circle cx="235.00" cy="377.52" r="1.8" fill="#FF0000"/>
<circle cx="228.00" cy="386.92" r="1.8" fill="#FF0000"/>
<circle cx="159.00" cy="391.92" r="1.8" fill="#FF0000"/>
<circle cx="191.50" cy="370.87" r="1.8" fill="#FF0000"/>
<circle cx="154.00" cy="382.27" r="1.8" fill="#FF0000"/>
<circle cx="160.00" cy="388.31" r="1.8" fill="#FF0000"/>
<circle cx="230.50" cy="389.24" r="1.8" fill="#FF0000"/>
<circle cx="149.50" cy="381.56" r="1.8" fill="#FF0000"/>
<circle cx="230.50" cy="374.79" r="1.8" fill="#FF0000"/>
<circle cx="155.50" cy="392.07" r="1.8" fill="#FF0000"/>
<circle cx="159.00" cy="372.48" r="1.8" fill="#FF0000"/>
<circle cx="238.50" cy="381.42" r="1.8" fill="#FF0000"/>
<circle cx="232.50" cy="391.87" r="1.8" fill="#FF0000"/>
<circle cx="153.00" cy="375.19" r="1.8" fill="#FF0000"/>
<circle cx="188.50" cy="359.47" r="1.8" fill="#FF0000"/>
<circle cx="233.50" cy="383.78" r="1.8" fill="#FF0000"/>
<circle cx="220.00" cy="400.00" r="1.8" fill="#FF0000"/>
<circle cx="153.00" cy="389.87" r="1.8" fill="#FF0000"/>
<circle cx="156.50" cy="388.57" r="1.8" fill="#FF0000"/>
<circle cx="152.50" cy="385.24" r="1.8" fill="#FF0000"/>
<circle cx="207.50" cy="366.91" r="1.8" fill="#FF0000"/>
<circle cx="170.00" cy="394.97" r="1.8" fill="#FF0000"/>
<circle cx="238.00" cy="383.95" r="1.8" fill="#FF0000"/>
<circle cx="236.00" cy="374.04" r="1.8" fill="#FF0000"/>
<circle cx="166.50" cy="372.44" r="1.8" fill="#FF0000"/>
<circle cx="155.50" cy="372.59" r="1.8" fill="#FF0000"/>
<circle cx="234.00" cy="388.19" r="1.8" fill="#FF0000"/>
<circle cx="154.00" cy="377.69" r="1.8" fill="#FF0000"/>
<circle cx="219.50" cy="371.49" r="1.8" fill="#FF0000"/>
<circle cx="165.00" cy="395.03" r="1.8" fill="#FF0000"/>
<circle cx="236.00" cy="391.46" r="1.8" fill="#FF0000"/>
<circle cx="150.00" cy="388.26" r="1.8" fill="#FF0000"/>
<circle cx="235.00" cy="382.76" r="1.8" fill="#FF0000"/>
<circle cx="155.00" cy="381.11" r="1.8" fill="#FF0000"/>
<circle cx="236.50" cy="385.36" r="1.8" fill="#FF0000"/>
<circle cx="199.50" cy="349.50" r="1.8" fill="#FF0000"/>
<circle cx="148.00" cy="389.60" r="1.8" fill="#FF0000"/>
<circle cx="186.50" cy="403.78" r="1.8" fill="#FF0000"/>
<circle cx="206.00" cy="363.67" r="1.8" fill="#FF0000"/>
<circle cx="232.00" cy="381.19" r="1.8" fill="#FF0000"/>
<circle cx="231.50" cy="377.15" r="1.8" fill="#FF0000"/>
<circle cx="229.50" cy="393.68" r="1.8" fill="#FF0000"/>
<circle cx="149.00" cy="385.64" r="1.8" fill="#FF0000"/>
<circle cx="193.50" cy="377.72" r="1.8" fill="#FF0000"/>
<circle cx="193.50" cy="377.15" r="1.8" fill="#FF0000"/>
<circle cx="192.50" cy="401.22" r="1.8" fill="#FF0000"/>
<circle cx="200.50" cy="403.07" r="1.8" fill="#FF0000"/>
<circle cx="212.00" cy="370.48" r="1.8" fill="#FF0000"/>
<circle cx="159.00" cy="370.08" r="1.8" fill="#FF0000"/>
<circle cx="150.00" cy="373.40" r="1.8" fill="#FF0000"/>
<circle cx="193.50" cy="380.78" r="1.8" fill="#FF0000"/>
<circle cx="193.50" cy="379.84" r="1.8" fill="#FF0000"/>
<circle cx="178.50" cy="366.00" r="1.8" fill="#FF0000"/>
<circle cx="152.00" cy="384.18" r="1.8" fill="#FF0000"/>
<circle cx="237.50" cy="388.62" r="1.8" fill="#FF0000"/>
<circle cx="153.00" cy="394.47" r="1.8" fill="#FF0000"/>
<circle cx="180.50" cy="363.03" r="1.8" fill="#FF0000"/>
<circle cx="176.50" cy="370.33" r="1.8" fill="#FF0000"/>
<circle cx="232.00" cy="384.70" r="1.8" fill="#FF0000"/>
<circle cx="188.50" cy="353.07" r="1.8" fill="#FF0000"/>
<circle cx="151.50" cy="388.73" r="1.8" fill="#FF0000"/>
<circle cx="214.00" cy="401.60" r="1.8" fill="#FF0000"/>
<circle cx="150.00" cy="392.49" r="1.8" fill="#FF0000"/>
<circle cx="193.50" cy="380.96" r="1.8" fill="#FF0000"/>
<circle cx="193.50" cy="380.33" r="1.8" fill="#FF0000"/>
<circle cx="193.50" cy="380.44" r="1.8" fill="#FF0000"/>
<circle cx="238.50" cy="375.50" r="1.8" fill="#FF0000"/>
<circle cx="217.50" cy="395.79" r="1.8" fill="#FF0000"/>
<circle cx="235.50" cy="391.41" r="1.8" fill="#FF0000"/>
<circle cx="203.00" cy="405.12" r="1.8" fill="#FF0000"/>
<circle cx="223.00" cy="370.87" r="1.8" fill="#FF0000"/>
<circle cx="209.00" cy="362.40" r="1.8" fill="#FF0000"/>
<circle cx="193.50" cy="377.58" r="1.8" fill="#FF0000"/>
<circle cx="154.50" cy="390.03" r="1.8" fill="#FF0000"/>
<circle cx="232.00" cy="391.76" r="1.8" fill="#FF0000"/>
<circle cx="193.50" cy="378.48" r="1.8" fill="#FF0000"/>
<circle cx="155.50" cy="385.28" r="1.8" fill="#FF0000"/>
<circle cx="193.50" cy="385.60" r="1.8" fill="#FF0000"/>
<circle cx="193.50" cy="383.69" r="1.8" fill="#FF0000"/>
<circle cx="193.50" cy="379.96" r="1.8" fill="#FF0000"/>
<circle cx="193.50" cy="377.84" r="1.8" fill="#FF0000"/>
<circle cx="193.50" cy="383.90" r="1.8" fill="#FF0000"/>
<circle cx="234.00" cy="388.19" r="1.8" fill="#FF0000"/>
<circle cx="193.50" cy="386.97" r="1.8" fill="#FF0000"/>
<circle cx="163.00" cy="372.04" r="1.8" fill="#FF0000"/>
<circle cx="193.50" cy="386.23" r="1.8" fill="#FF0000"/>
<circle cx="148.50" cy="372.94" r="1.8" fill="#FF0000"/>
<circle cx="211.00" cy="366.63" r="1.8" fill="#FF0000"/>
<circle cx="230.50" cy="388.27" r="1.8" fill="#FF0000"/>
<circle cx="193.50" cy="375.77" r="1.8" fill="#FF0000"/>
<circle cx="175.00" cy="366.60" r="1.8" fill="#FF0000"/>
<circle cx="192.00" cy="396.36" r="1.8" fill="#FF0000"/>
<circle cx="193.50" cy="386.81" r="1.8" fill="#FF0000"/>
<circle cx="156.50" cy="375.30" r="1.8" fill="#FF0000"/>
<circle cx="193.50" cy="331.73" r="1.8" fill="#FF0000"/>
<circle cx="184.00" cy="406.03" r="1.8" fill="#FF0000"/>
<circle cx="193.50" cy="381.31" r="1.8" fill="#FF0000"/>
<circle cx="193.50" cy="376.10" r="1.8" fill="#FF0000"/>
<circle cx="193.50" cy="383.80" r="1.8" fill="#FF0000"/>
<circle cx="193.50" cy="376.67" r="1.8" fill="#FF0000"/>
<circle cx="237.50" cy="394.38" r="1.8" fill="#FF0000"/>
<circle cx="238.00" cy="394.14" r="1.8" fill="#FF0000"/>
<circle cx="157.50" cy="397.65" r="1.8" fill="#FF0000"/>
<circle cx="193.50" cy="381.20" r="1.8" fill="#FF0000"/>
<circle cx="150.00" cy="393.22" r="1.8" fill="#FF0000"/>
<circle cx="193.50" cy="384.41" r="1.8" fill="#FF0000"/>
<circle cx="193.50" cy="378.79" r="1.8" fill="#FF0000"/>
<circle cx="193.50" cy="391.70" r="1.8" fill="#FF0000"/>
<circle cx="233.00" cy="372.41" r="1.8" fill="#FF0000"/>
<circle cx="153.50" cy="393.96" r="1.8" fill="#FF0000"/>
<circle cx="236.50" cy="372.74" r="1.8" fill="#FF0000"/>
<circle cx="193.50" cy="380.69" r="1.8" fill="#FF0000"/>
<circle cx="193.50" cy="380.25" r="1.8" fill="#FF0000"/>
<circle cx="193.50" cy="393.62" r="1.8" fill="#FF0000"/>
<circle cx="222.00" cy="395.23" r="1.8" fill="#FF0000"/>
<circle cx="226.50" cy="371.40" r="1.8" fill="#FF0000"/>
<circle cx="176.00" cy="363.50" r="1.8" fill="#FF0000"/>
<circle cx="193.50" cy="381.11" r="1.8" fill="#FF0000"/>
<circle cx="193.50" cy="391.16" r="1.8" fill="#FF0000"/>
<circle cx="193.50" cy="388.43" r="1.8" fill="#FF0000"/>
<circle cx="193.50" cy="391.66" r="1.8" fill="#FF0000"/>
<circle cx="193.50" cy="387.05" r="1.8" fill="#FF0000"/>
<circle cx="193.50" cy="380.64" r="1.8" fill="#FF0000"/>
<circle cx="234.50" cy="394.71" r="1.8" fill="#FF0000"/>
<circle cx="161.50" cy="395.29" r="1.8" fill="#FF0000"/>
<circle cx="193.50" cy="391.57" r="1.8" fill="#FF0000"/>
<circle cx="193.50" cy="382.12" r="1.8" fill="#FF0000"/>
<circle cx="151.50" cy="374.38" r="1.8" fill="#FF0000"/>
<circle cx="169.50" cy="368.62" r="1.8" fill="#FF0000"/>
<circle cx="172.00" cy="400.92" r="1.8" fill="#FF0000"/>
<circle cx="157.50" cy="394.94" r="1.8" fill="#FF0000"/>
<circle cx="193.50" cy="386.53" r="1.8" fill="#FF0000"/>
<circle cx="154.00" cy="371.96" r="1.8" fill="#FF0000"/>
<circle cx="193.50" cy="376.50" r="1.8" fill="#FF0000"/>
<circle cx="193.50" cy="390.43" r="1.8" fill="#FF0000"/>
<circle cx="151.00" cy="397.67" r="1.8" fill="#FF0000"/>
<circle cx="225.50" cy="388.98" r="1.8" fill="#FF0000"/>
<circle cx="193.50" cy="394.59" r="1.8" fill="#FF0000"/>
<circle cx="194.50" cy="336.10" r="1.8" fill="#FF0000"/>
<circle cx="193.50" cy="387.21" r="1.8" fill="#FF0000"/>
<circle cx="193.50" cy="391.60" r="1.8" fill="#FF0000"/>
<circle cx="225.50" cy="395.63" r="1.8" fill="#FF0000"/>
<circle cx="193.50" cy="385.84" r="1.8" fill="#FF0000"/>
<circle cx="233.50" cy="373.99" r="1.8" fill="#FF0000"/>
<circle cx="193.50" cy="390.65" r="1.8" fill="#FF0000"/>
<circle cx="232.50" cy="395.24" r="1.8" fill="#FF0000"/>
<circle cx="193.50" cy="387.65" r="1.8" fill="#FF0000"/>
<circle cx="193.50" cy="384.46" r="1.8" fill="#FF0000"/>
<circle cx="193.50" cy="386.60" r="1.8" fill="#FF0000"/>
<circle cx="193.50" cy="381.15" r="1.8" fill="#FF0000"/>
<circle cx="230.50" cy="394.64" r="1.8" fill="#FF0000"/>
<circle cx="193.50" cy="389.86" r="1.8" fill="#FF0000"/>
<line x1="174.00" y1="355.30" x2="213.00" y2="355.30" stroke="#888" stroke-width="1" />
<rect x="269.70" y="272.40" width="221.60" height="149.50" fill="none" stroke="#777" stroke-width="1.2" />
<line x1="264.00" y1="416.30" x2="269.70" y2="416.30" stroke="#444" stroke-width="1" />
<text transform="translate(259.8,419.20) scale(1.08,1)" font-size="8.0" text-anchor="end" fill="#000" >0</text>
<line x1="264.00" y1="387.91" x2="269.70" y2="387.91" stroke="#444" stroke-width="1" />
<text transform="translate(259.8,390.81) scale(1.08,1)" font-size="8.0" text-anchor="end" fill="#000" >10</text>
<line x1="264.00" y1="359.52" x2="269.70" y2="359.52" stroke="#444" stroke-width="1" />
<text transform="translate(259.8,362.42) scale(1.08,1)" font-size="8.0" text-anchor="end" fill="#000" >20</text>
<line x1="264.00" y1="331.13" x2="269.70" y2="331.13" stroke="#444" stroke-width="1" />
<text transform="translate(259.8,334.03) scale(1.08,1)" font-size="8.0" text-anchor="end" fill="#000" >30</text>
<line x1="264.00" y1="302.74" x2="269.70" y2="302.74" stroke="#444" stroke-width="1" />
<text transform="translate(259.8,305.64) scale(1.08,1)" font-size="8.0" text-anchor="end" fill="#000" >40</text>
<line x1="264.00" y1="274.35" x2="269.70" y2="274.35" stroke="#444" stroke-width="1" />
<text transform="translate(259.8,277.25) scale(1.08,1)" font-size="8.0" text-anchor="end" fill="#000" >50</text>
<line x1="328.40" y1="421.90" x2="328.40" y2="426.20" stroke="#444" stroke-width="1" />
<text x="328.40" y="439.00" font-size="7.8" text-anchor="middle" fill="#000" >Normal</text>
<line x1="431.50" y1="421.90" x2="431.50" y2="426.20" stroke="#444" stroke-width="1" />
<text x="431.50" y="439.00" font-size="7.8" text-anchor="middle" fill="#000" >Tumor</text>
<line x1="328.40" y1="289.40" x2="431.40" y2="289.40" stroke="#333" stroke-width="0.9" />
<line x1="328.40" y1="285.50" x2="328.40" y2="293.40" stroke="#333" stroke-width="0.9" />
<line x1="431.40" y1="285.50" x2="431.40" y2="293.40" stroke="#333" stroke-width="0.9" />
<text x="380.00" y="285.20" font-size="7.75" text-anchor="middle" fill="#000" >p = 7.459e−18</text>
<circle cx="328.4" cy="388.38" r="3.3" fill="#0000FF"/>
<rect x="428.00" y="385.55" width="7.00" height="7.00" fill="#FF0000" stroke="none" stroke-width="1" />
<circle cx="328.4" cy="388.05" r="3.3" fill="#0000FF"/>
<rect x="428.00" y="373.76" width="7.00" height="7.00" fill="#FF0000" stroke="none" stroke-width="1" />
<circle cx="328.4" cy="387.01" r="3.3" fill="#0000FF"/>
<rect x="428.00" y="370.08" width="7.00" height="7.00" fill="#FF0000" stroke="none" stroke-width="1" />
<circle cx="328.4" cy="386.91" r="3.3" fill="#0000FF"/>
<rect x="428.00" y="367.38" width="7.00" height="7.00" fill="#FF0000" stroke="none" stroke-width="1" />
<circle cx="328.4" cy="383.99" r="3.3" fill="#0000FF"/>
<rect x="428.00" y="361.60" width="7.00" height="7.00" fill="#FF0000" stroke="none" stroke-width="1" />
<circle cx="328.4" cy="392.06" r="3.3" fill="#0000FF"/>
<rect x="428.00" y="368.59" width="7.00" height="7.00" fill="#FF0000" stroke="none" stroke-width="1" />
<circle cx="328.4" cy="397.31" r="3.3" fill="#0000FF"/>
<rect x="428.00" y="355.93" width="7.00" height="7.00" fill="#FF0000" stroke="none" stroke-width="1" />
<circle cx="328.4" cy="398.52" r="3.3" fill="#0000FF"/>
<rect x="428.00" y="381.40" width="7.00" height="7.00" fill="#FF0000" stroke="none" stroke-width="1" />
<circle cx="328.4" cy="375.29" r="3.3" fill="#0000FF"/>
<rect x="428.00" y="344.96" width="7.00" height="7.00" fill="#FF0000" stroke="none" stroke-width="1" />
<circle cx="328.4" cy="384.35" r="3.3" fill="#0000FF"/>
<rect x="428.00" y="367.20" width="7.00" height="7.00" fill="#FF0000" stroke="none" stroke-width="1" />
<circle cx="328.4" cy="395.66" r="3.3" fill="#0000FF"/>
<rect x="428.00" y="347.52" width="7.00" height="7.00" fill="#FF0000" stroke="none" stroke-width="1" />
<circle cx="328.4" cy="398.08" r="3.3" fill="#0000FF"/>
<rect x="428.00" y="361.64" width="7.00" height="7.00" fill="#FF0000" stroke="none" stroke-width="1" />
<circle cx="328.4" cy="394.85" r="3.3" fill="#0000FF"/>
<rect x="428.00" y="362.96" width="7.00" height="7.00" fill="#FF0000" stroke="none" stroke-width="1" />
<circle cx="328.4" cy="388.09" r="3.3" fill="#0000FF"/>
<rect x="428.00" y="359.96" width="7.00" height="7.00" fill="#FF0000" stroke="none" stroke-width="1" />
<circle cx="328.4" cy="388.67" r="3.3" fill="#0000FF"/>
<rect x="428.00" y="354.64" width="7.00" height="7.00" fill="#FF0000" stroke="none" stroke-width="1" />
<circle cx="328.4" cy="383.74" r="3.3" fill="#0000FF"/>
<rect x="428.00" y="376.04" width="7.00" height="7.00" fill="#FF0000" stroke="none" stroke-width="1" />
<circle cx="328.4" cy="387.21" r="3.3" fill="#0000FF"/>
<rect x="428.00" y="370.50" width="7.00" height="7.00" fill="#FF0000" stroke="none" stroke-width="1" />
<circle cx="328.4" cy="392.68" r="3.3" fill="#0000FF"/>
<rect x="428.00" y="375.16" width="7.00" height="7.00" fill="#FF0000" stroke="none" stroke-width="1" />
<circle cx="328.4" cy="374.91" r="3.3" fill="#0000FF"/>
<rect x="428.00" y="338.99" width="7.00" height="7.00" fill="#FF0000" stroke="none" stroke-width="1" />
<circle cx="328.4" cy="382.07" r="3.3" fill="#0000FF"/>
<rect x="428.00" y="363.78" width="7.00" height="7.00" fill="#FF0000" stroke="none" stroke-width="1" />
<circle cx="328.4" cy="391.76" r="3.3" fill="#0000FF"/>
<rect x="428.00" y="361.77" width="7.00" height="7.00" fill="#FF0000" stroke="none" stroke-width="1" />
<circle cx="328.4" cy="397.82" r="3.3" fill="#0000FF"/>
<rect x="428.00" y="352.65" width="7.00" height="7.00" fill="#FF0000" stroke="none" stroke-width="1" />
<circle cx="328.4" cy="380.62" r="3.3" fill="#0000FF"/>
<rect x="428.00" y="383.17" width="7.00" height="7.00" fill="#FF0000" stroke="none" stroke-width="1" />
<circle cx="328.4" cy="390.00" r="3.3" fill="#0000FF"/>
<rect x="428.00" y="348.63" width="7.00" height="7.00" fill="#FF0000" stroke="none" stroke-width="1" />
<circle cx="328.4" cy="375.89" r="3.3" fill="#0000FF"/>
<rect x="428.00" y="362.88" width="7.00" height="7.00" fill="#FF0000" stroke="none" stroke-width="1" />
<circle cx="328.4" cy="394.37" r="3.3" fill="#0000FF"/>
<rect x="428.00" y="363.46" width="7.00" height="7.00" fill="#FF0000" stroke="none" stroke-width="1" />
<circle cx="328.4" cy="377.07" r="3.3" fill="#0000FF"/>
<rect x="428.00" y="385.55" width="7.00" height="7.00" fill="#FF0000" stroke="none" stroke-width="1" />
<circle cx="328.4" cy="389.73" r="3.3" fill="#0000FF"/>
<rect x="428.00" y="356.40" width="7.00" height="7.00" fill="#FF0000" stroke="none" stroke-width="1" />
<circle cx="328.4" cy="397.75" r="3.3" fill="#0000FF"/>
<rect x="428.00" y="378.36" width="7.00" height="7.00" fill="#FF0000" stroke="none" stroke-width="1" />
<circle cx="328.4" cy="392.89" r="3.3" fill="#0000FF"/>
<rect x="428.00" y="379.24" width="7.00" height="7.00" fill="#FF0000" stroke="none" stroke-width="1" />
<circle cx="328.4" cy="397.40" r="3.3" fill="#0000FF"/>
<rect x="428.00" y="379.46" width="7.00" height="7.00" fill="#FF0000" stroke="none" stroke-width="1" />
<circle cx="328.4" cy="380.83" r="3.3" fill="#0000FF"/>
<rect x="428.00" y="338.99" width="7.00" height="7.00" fill="#FF0000" stroke="none" stroke-width="1" />
<circle cx="328.4" cy="396.64" r="3.3" fill="#0000FF"/>
<rect x="428.00" y="362.98" width="7.00" height="7.00" fill="#FF0000" stroke="none" stroke-width="1" />
<circle cx="328.4" cy="398.07" r="3.3" fill="#0000FF"/>
<rect x="428.00" y="357.22" width="7.00" height="7.00" fill="#FF0000" stroke="none" stroke-width="1" />
<circle cx="328.4" cy="379.86" r="3.3" fill="#0000FF"/>
<rect x="428.00" y="355.94" width="7.00" height="7.00" fill="#FF0000" stroke="none" stroke-width="1" />
<circle cx="328.4" cy="388.50" r="3.3" fill="#0000FF"/>
<rect x="428.00" y="348.42" width="7.00" height="7.00" fill="#FF0000" stroke="none" stroke-width="1" />
<circle cx="328.4" cy="394.84" r="3.3" fill="#0000FF"/>
<rect x="428.00" y="363.89" width="7.00" height="7.00" fill="#FF0000" stroke="none" stroke-width="1" />
<circle cx="328.4" cy="383.65" r="3.3" fill="#0000FF"/>
<rect x="428.00" y="369.84" width="7.00" height="7.00" fill="#FF0000" stroke="none" stroke-width="1" />
<circle cx="328.4" cy="396.67" r="3.3" fill="#0000FF"/>
<rect x="428.00" y="370.88" width="7.00" height="7.00" fill="#FF0000" stroke="none" stroke-width="1" />
<circle cx="328.4" cy="392.89" r="3.3" fill="#0000FF"/>
<rect x="428.00" y="358.90" width="7.00" height="7.00" fill="#FF0000" stroke="none" stroke-width="1" />
<circle cx="328.4" cy="375.57" r="3.3" fill="#0000FF"/>
<rect x="428.00" y="359.53" width="7.00" height="7.00" fill="#FF0000" stroke="none" stroke-width="1" />
<circle cx="328.4" cy="377.69" r="3.3" fill="#0000FF"/>
<rect x="428.00" y="373.39" width="7.00" height="7.00" fill="#FF0000" stroke="none" stroke-width="1" />
<circle cx="328.4" cy="394.35" r="3.3" fill="#0000FF"/>
<rect x="428.00" y="382.86" width="7.00" height="7.00" fill="#FF0000" stroke="none" stroke-width="1" />
<circle cx="328.4" cy="383.70" r="3.3" fill="#0000FF"/>
<rect x="428.00" y="347.66" width="7.00" height="7.00" fill="#FF0000" stroke="none" stroke-width="1" />
<circle cx="328.4" cy="397.07" r="3.3" fill="#0000FF"/>
<rect x="428.00" y="354.29" width="7.00" height="7.00" fill="#FF0000" stroke="none" stroke-width="1" />
<circle cx="328.4" cy="393.17" r="3.3" fill="#0000FF"/>
<rect x="428.00" y="363.71" width="7.00" height="7.00" fill="#FF0000" stroke="none" stroke-width="1" />
<circle cx="328.4" cy="380.47" r="3.3" fill="#0000FF"/>
<rect x="428.00" y="368.22" width="7.00" height="7.00" fill="#FF0000" stroke="none" stroke-width="1" />
<circle cx="328.4" cy="397.74" r="3.3" fill="#0000FF"/>
<rect x="428.00" y="353.70" width="7.00" height="7.00" fill="#FF0000" stroke="none" stroke-width="1" />
<circle cx="328.4" cy="397.32" r="3.3" fill="#0000FF"/>
<rect x="428.00" y="371.39" width="7.00" height="7.00" fill="#FF0000" stroke="none" stroke-width="1" />
<circle cx="328.4" cy="384.70" r="3.3" fill="#0000FF"/>
<rect x="428.00" y="367.85" width="7.00" height="7.00" fill="#FF0000" stroke="none" stroke-width="1" />
<circle cx="328.4" cy="390.37" r="3.3" fill="#0000FF"/>
<rect x="428.00" y="385.55" width="7.00" height="7.00" fill="#FF0000" stroke="none" stroke-width="1" />
<circle cx="328.4" cy="387.60" r="3.3" fill="#0000FF"/>
<rect x="428.00" y="353.76" width="7.00" height="7.00" fill="#FF0000" stroke="none" stroke-width="1" />
<circle cx="328.4" cy="380.81" r="3.3" fill="#0000FF"/>
<rect x="428.00" y="297.25" width="7.00" height="7.00" fill="#FF0000" stroke="none" stroke-width="1" />
<circle cx="328.4" cy="385.64" r="3.3" fill="#0000FF"/>
<rect x="428.00" y="313.15" width="7.00" height="7.00" fill="#FF0000" stroke="none" stroke-width="1" />
<circle cx="328.4" cy="399.27" r="3.3" fill="#0000FF"/>
<rect x="428.00" y="394.06" width="7.00" height="7.00" fill="#FF0000" stroke="none" stroke-width="1" />
<circle cx="328.4" cy="375.99" r="3.3" fill="#0000FF"/>
<rect x="428.00" y="394.35" width="7.00" height="7.00" fill="#FF0000" stroke="none" stroke-width="1" />
<circle cx="328.4" cy="390.75" r="3.3" fill="#0000FF"/>
<rect x="428.00" y="338.99" width="7.00" height="7.00" fill="#FF0000" stroke="none" stroke-width="1" />
<line x1="328.40" y1="388.38" x2="431.50" y2="389.05" stroke="#111" stroke-width="0.6" />
<line x1="328.40" y1="388.05" x2="431.50" y2="377.26" stroke="#111" stroke-width="0.6" />
<line x1="328.40" y1="387.01" x2="431.50" y2="373.58" stroke="#111" stroke-width="0.6" />
<line x1="328.40" y1="386.91" x2="431.50" y2="370.88" stroke="#111" stroke-width="0.6" />
<line x1="328.40" y1="383.99" x2="431.50" y2="365.10" stroke="#111" stroke-width="0.6" />
<line x1="328.40" y1="392.06" x2="431.50" y2="372.09" stroke="#111" stroke-width="0.6" />
<line x1="328.40" y1="397.31" x2="431.50" y2="359.43" stroke="#111" stroke-width="0.6" />
<line x1="328.40" y1="398.52" x2="431.50" y2="384.90" stroke="#111" stroke-width="0.6" />
<line x1="328.40" y1="375.29" x2="431.50" y2="348.46" stroke="#111" stroke-width="0.6" />
<line x1="328.40" y1="384.35" x2="431.50" y2="370.70" stroke="#111" stroke-width="0.6" />
<line x1="328.40" y1="395.66" x2="431.50" y2="351.02" stroke="#111" stroke-width="0.6" />
<line x1="328.40" y1="398.08" x2="431.50" y2="365.14" stroke="#111" stroke-width="0.6" />
<line x1="328.40" y1="394.85" x2="431.50" y2="366.46" stroke="#111" stroke-width="0.6" />
<line x1="328.40" y1="388.09" x2="431.50" y2="363.46" stroke="#111" stroke-width="0.6" />
<line x1="328.40" y1="388.67" x2="431.50" y2="358.14" stroke="#111" stroke-width="0.6" />
<line x1="328.40" y1="383.74" x2="431.50" y2="379.54" stroke="#111" stroke-width="0.6" />
<line x1="328.40" y1="387.21" x2="431.50" y2="374.00" stroke="#111" stroke-width="0.6" />
<line x1="328.40" y1="392.68" x2="431.50" y2="378.66" stroke="#111" stroke-width="0.6" />
<line x1="328.40" y1="374.91" x2="431.50" y2="342.49" stroke="#111" stroke-width="0.6" />
<line x1="328.40" y1="382.07" x2="431.50" y2="367.28" stroke="#111" stroke-width="0.6" />
<line x1="328.40" y1="391.76" x2="431.50" y2="365.27" stroke="#111" stroke-width="0.6" />
<line x1="328.40" y1="397.82" x2="431.50" y2="356.15" stroke="#111" stroke-width="0.6" />
<line x1="328.40" y1="380.62" x2="431.50" y2="386.67" stroke="#111" stroke-width="0.6" />
<line x1="328.40" y1="390.00" x2="431.50" y2="352.13" stroke="#111" stroke-width="0.6" />
<line x1="328.40" y1="375.89" x2="431.50" y2="366.38" stroke="#111" stroke-width="0.6" />
<line x1="328.40" y1="394.37" x2="431.50" y2="366.96" stroke="#111" stroke-width="0.6" />
<line x1="328.40" y1="377.07" x2="431.50" y2="389.05" stroke="#111" stroke-width="0.6" />
<line x1="328.40" y1="389.73" x2="431.50" y2="359.90" stroke="#111" stroke-width="0.6" />
<line x1="328.40" y1="397.75" x2="431.50" y2="381.86" stroke="#111" stroke-width="0.6" />
<line x1="328.40" y1="392.89" x2="431.50" y2="382.74" stroke="#111" stroke-width="0.6" />
<line x1="328.40" y1="397.40" x2="431.50" y2="382.96" stroke="#111" stroke-width="0.6" />
<line x1="328.40" y1="380.83" x2="431.50" y2="342.49" stroke="#111" stroke-width="0.6" />
<line x1="328.40" y1="396.64" x2="431.50" y2="366.48" stroke="#111" stroke-width="0.6" />
<line x1="328.40" y1="398.07" x2="431.50" y2="360.72" stroke="#111" stroke-width="0.6" />
<line x1="328.40" y1="379.86" x2="431.50" y2="359.44" stroke="#111" stroke-width="0.6" />
<line x1="328.40" y1="388.50" x2="431.50" y2="351.92" stroke="#111" stroke-width="0.6" />
<line x1="328.40" y1="394.84" x2="431.50" y2="367.39" stroke="#111" stroke-width="0.6" />
<line x1="328.40" y1="383.65" x2="431.50" y2="373.34" stroke="#111" stroke-width="0.6" />
<line x1="328.40" y1="396.67" x2="431.50" y2="374.38" stroke="#111" stroke-width="0.6" />
<line x1="328.40" y1="392.89" x2="431.50" y2="362.40" stroke="#111" stroke-width="0.6" />
<line x1="328.40" y1="375.57" x2="431.50" y2="363.03" stroke="#111" stroke-width="0.6" />
<line x1="328.40" y1="377.69" x2="431.50" y2="376.89" stroke="#111" stroke-width="0.6" />
<line x1="328.40" y1="394.35" x2="431.50" y2="386.36" stroke="#111" stroke-width="0.6" />
<line x1="328.40" y1="383.70" x2="431.50" y2="351.16" stroke="#111" stroke-width="0.6" />
<line x1="328.40" y1="397.07" x2="431.50" y2="357.79" stroke="#111" stroke-width="0.6" />
<line x1="328.40" y1="393.17" x2="431.50" y2="367.21" stroke="#111" stroke-width="0.6" />
<line x1="328.40" y1="380.47" x2="431.50" y2="371.72" stroke="#111" stroke-width="0.6" />
<line x1="328.40" y1="397.74" x2="431.50" y2="357.20" stroke="#111" stroke-width="0.6" />
<line x1="328.40" y1="397.32" x2="431.50" y2="374.89" stroke="#111" stroke-width="0.6" />
<line x1="328.40" y1="384.70" x2="431.50" y2="371.35" stroke="#111" stroke-width="0.6" />
<line x1="328.40" y1="390.37" x2="431.50" y2="389.05" stroke="#111" stroke-width="0.6" />
<line x1="328.40" y1="387.60" x2="431.50" y2="357.26" stroke="#111" stroke-width="0.6" />
<line x1="328.40" y1="380.81" x2="431.50" y2="300.75" stroke="#111" stroke-width="0.6" />
<line x1="328.40" y1="385.64" x2="431.50" y2="316.65" stroke="#111" stroke-width="0.6" />
<line x1="328.40" y1="399.27" x2="431.50" y2="397.56" stroke="#111" stroke-width="0.6" />
<line x1="328.40" y1="375.99" x2="431.50" y2="397.85" stroke="#111" stroke-width="0.6" />
<line x1="328.40" y1="390.75" x2="431.50" y2="342.49" stroke="#111" stroke-width="0.6" />
<line x1="544.20" y1="274.30" x2="544.20" y2="419.60" stroke="#EBEBEB" stroke-width="0.9" />
<line x1="529.30" y1="405.07" x2="678.30" y2="405.07" stroke="#EBEBEB" stroke-width="0.9" />
<line x1="559.10" y1="274.30" x2="559.10" y2="419.60" stroke="#EBEBEB" stroke-width="0.9" />
<line x1="529.30" y1="390.54" x2="678.30" y2="390.54" stroke="#EBEBEB" stroke-width="0.9" />
<line x1="574.00" y1="274.30" x2="574.00" y2="419.60" stroke="#EBEBEB" stroke-width="0.9" />
<line x1="529.30" y1="376.01" x2="678.30" y2="376.01" stroke="#EBEBEB" stroke-width="0.9" />
<line x1="588.90" y1="274.30" x2="588.90" y2="419.60" stroke="#EBEBEB" stroke-width="0.9" />
<line x1="529.30" y1="361.48" x2="678.30" y2="361.48" stroke="#EBEBEB" stroke-width="0.9" />
<line x1="603.80" y1="274.30" x2="603.80" y2="419.60" stroke="#EBEBEB" stroke-width="0.9" />
<line x1="529.30" y1="346.95" x2="678.30" y2="346.95" stroke="#EBEBEB" stroke-width="0.9" />
<line x1="618.70" y1="274.30" x2="618.70" y2="419.60" stroke="#EBEBEB" stroke-width="0.9" />
<line x1="529.30" y1="332.42" x2="678.30" y2="332.42" stroke="#EBEBEB" stroke-width="0.9" />
<line x1="633.60" y1="274.30" x2="633.60" y2="419.60" stroke="#EBEBEB" stroke-width="0.9" />
<line x1="529.30" y1="317.89" x2="678.30" y2="317.89" stroke="#EBEBEB" stroke-width="0.9" />
<line x1="648.50" y1="274.30" x2="648.50" y2="419.60" stroke="#EBEBEB" stroke-width="0.9" />
<line x1="529.30" y1="303.36" x2="678.30" y2="303.36" stroke="#EBEBEB" stroke-width="0.9" />
<line x1="663.40" y1="274.30" x2="663.40" y2="419.60" stroke="#EBEBEB" stroke-width="0.9" />
<line x1="529.30" y1="288.83" x2="678.30" y2="288.83" stroke="#EBEBEB" stroke-width="0.9" />
<line x1="529.30" y1="419.60" x2="678.30" y2="274.30" stroke="#C8C8C8" stroke-width="0.8" />
<polyline points="529.30,419.60 529.30,419.60 529.30,306.41 532.73,306.41 532.73,306.41 532.73,306.41 532.73,302.05 535.56,302.05 535.56,302.05 535.56,302.05 535.56,298.71 539.13,298.71 539.13,298.27 545.09,298.27 545.09,297.40 545.09,297.40 545.09,293.77 548.52,293.77 548.52,292.90 552.54,292.90 552.54,292.17 556.72,292.17 556.72,291.15 562.68,291.15 562.68,290.28 566.10,290.28 566.10,289.56 569.68,289.56 569.68,288.39 571.32,288.39 571.32,286.80 574.00,286.80 574.00,284.91 585.17,284.91 585.17,284.91 585.17,284.91 585.17,283.74 604.99,283.74 604.99,282.58 619.30,282.58 619.30,280.40 638.22,280.40 638.22,279.39 644.77,279.39 644.77,278.22 650.59,278.22 650.59,277.21 669.66,277.21 669.66,276.48 676.81,276.48 676.81,274.30 678.30,274.30 678.30,274.30" fill="none" stroke="#6EC2D8" stroke-width="1.0" />
<rect x="528.40" y="273.00" width="150.20" height="146.60" fill="none" stroke="#333" stroke-width="1.3" />
<line x1="525.30" y1="419.60" x2="529.30" y2="419.60" stroke="#333" stroke-width="1" />
<text x="521.30" y="422.80" font-size="8.6" text-anchor="end" fill="#222" >0.0</text>
<line x1="529.30" y1="419.60" x2="529.30" y2="423.60" stroke="#333" stroke-width="1" />
<text x="529.30" y="431.10" font-size="8.6" text-anchor="middle" fill="#222" >0.0</text>
<line x1="525.30" y1="390.54" x2="529.30" y2="390.54" stroke="#333" stroke-width="1" />
<text x="521.30" y="393.74" font-size="8.6" text-anchor="end" fill="#222" >0.2</text>
<line x1="559.10" y1="419.60" x2="559.10" y2="423.60" stroke="#333" stroke-width="1" />
<text x="559.10" y="431.10" font-size="8.6" text-anchor="middle" fill="#222" >0.2</text>
<line x1="525.30" y1="361.48" x2="529.30" y2="361.48" stroke="#333" stroke-width="1" />
<text x="521.30" y="364.68" font-size="8.6" text-anchor="end" fill="#222" >0.4</text>
<line x1="588.90" y1="419.60" x2="588.90" y2="423.60" stroke="#333" stroke-width="1" />
<text x="588.90" y="431.10" font-size="8.6" text-anchor="middle" fill="#222" >0.4</text>
<line x1="525.30" y1="332.42" x2="529.30" y2="332.42" stroke="#333" stroke-width="1" />
<text x="521.30" y="335.62" font-size="8.6" text-anchor="end" fill="#222" >0.6</text>
<line x1="618.70" y1="419.60" x2="618.70" y2="423.60" stroke="#333" stroke-width="1" />
<text x="618.70" y="431.10" font-size="8.6" text-anchor="middle" fill="#222" >0.6</text>
<line x1="525.30" y1="303.36" x2="529.30" y2="303.36" stroke="#333" stroke-width="1" />
<text x="521.30" y="306.56" font-size="8.6" text-anchor="end" fill="#222" >0.8</text>
<line x1="648.50" y1="419.60" x2="648.50" y2="423.60" stroke="#333" stroke-width="1" />
<text x="648.50" y="431.10" font-size="8.6" text-anchor="middle" fill="#222" >0.8</text>
<line x1="525.30" y1="274.30" x2="529.30" y2="274.30" stroke="#333" stroke-width="1" />
<text x="521.30" y="277.50" font-size="8.6" text-anchor="end" fill="#222" >1.0</text>
<line x1="678.30" y1="419.60" x2="678.30" y2="423.60" stroke="#333" stroke-width="1" />
<text x="678.30" y="431.10" font-size="8.6" text-anchor="middle" fill="#222" >1.0</text>
<text transform="translate(505,346.0) rotate(-90)" font-size="9.0" text-anchor="middle" fill="#000" >Sensitivity (TPR)</text>
<text x="603.50" y="442.00" font-size="9.4" text-anchor="middle" fill="#000" >1−Specificity (FPR)</text>
<text x="675.50" y="397.60" font-size="6.6" text-anchor="end" fill="#222" >13.046670000000001</text>
<text x="675.50" y="406.40" font-size="6.6" text-anchor="end" fill="#222" >AUC: 0.930</text>
<text x="675.50" y="415.10" font-size="6.6" text-anchor="end" fill="#222" >CI: 0.908−0.952</text>
<line x1="40.30" y1="494.50" x2="40.30" y2="662.60" stroke="#444" stroke-width="1" />
<line x1="40.30" y1="662.60" x2="371.00" y2="662.60" stroke="#444" stroke-width="1" />
<line x1="36.00" y1="660.70" x2="40.30" y2="660.70" stroke="#444" stroke-width="1" />
<text transform="translate(35.6,663.30) scale(1.14,1)" font-size="7.4" text-anchor="end" fill="#222" >0</text>
<line x1="36.00" y1="627.50" x2="40.30" y2="627.50" stroke="#444" stroke-width="1" />
<text transform="translate(35.6,630.10) scale(1.14,1)" font-size="7.4" text-anchor="end" fill="#222" >20</text>
<line x1="36.00" y1="594.30" x2="40.30" y2="594.30" stroke="#444" stroke-width="1" />
<text transform="translate(35.6,596.90) scale(1.14,1)" font-size="7.4" text-anchor="end" fill="#222" >40</text>
<line x1="36.00" y1="561.10" x2="40.30" y2="561.10" stroke="#444" stroke-width="1" />
<text transform="translate(35.6,563.70) scale(1.14,1)" font-size="7.4" text-anchor="end" fill="#222" >60</text>
<line x1="36.00" y1="527.90" x2="40.30" y2="527.90" stroke="#444" stroke-width="1" />
<text transform="translate(35.6,530.50) scale(1.14,1)" font-size="7.4" text-anchor="end" fill="#222" >80</text>
<line x1="36.00" y1="494.70" x2="40.30" y2="494.70" stroke="#444" stroke-width="1" />
<text transform="translate(35.6,497.30) scale(1.14,1)" font-size="7.4" text-anchor="end" fill="#222" >100</text>
<line x1="43.10" y1="662.60" x2="43.10" y2="665.50" stroke="#444" stroke-width="1" />
<text transform="translate(43.10,672.5) scale(1.14,1)" font-size="7.4" text-anchor="middle" fill="#222" >0</text>
<line x1="97.70" y1="662.60" x2="97.70" y2="665.50" stroke="#444" stroke-width="1" />
<text transform="translate(97.70,672.5) scale(1.14,1)" font-size="7.4" text-anchor="middle" fill="#222" >1000</text>
<line x1="152.30" y1="662.60" x2="152.30" y2="665.50" stroke="#444" stroke-width="1" />
<text transform="translate(152.30,672.5) scale(1.14,1)" font-size="7.4" text-anchor="middle" fill="#222" >2000</text>
<line x1="206.90" y1="662.60" x2="206.90" y2="665.50" stroke="#444" stroke-width="1" />
<text transform="translate(206.90,672.5) scale(1.14,1)" font-size="7.4" text-anchor="middle" fill="#222" >3000</text>
<line x1="261.50" y1="662.60" x2="261.50" y2="665.50" stroke="#444" stroke-width="1" />
<text transform="translate(261.50,672.5) scale(1.14,1)" font-size="7.4" text-anchor="middle" fill="#222" >4000</text>
<line x1="316.10" y1="662.60" x2="316.10" y2="665.50" stroke="#444" stroke-width="1" />
<text transform="translate(316.10,672.5) scale(1.14,1)" font-size="7.4" text-anchor="middle" fill="#222" >5000</text>
<line x1="370.70" y1="662.60" x2="370.70" y2="665.50" stroke="#444" stroke-width="1" />
<text transform="translate(370.70,672.5) scale(1.14,1)" font-size="7.4" text-anchor="middle" fill="#222" >6000</text>
<text transform="translate(207.5,685) scale(1.05,1)" font-size="10.8" text-anchor="middle" fill="#000" >Days</text>
<text transform="translate(18.6,573.2) rotate(-90)" font-size="10.5" text-anchor="middle" fill="#000" >% Surviving</text>
<text x="87.00" y="630.00" font-size="10.6" text-anchor="start" fill="#000" >P=0.003</text>
<polyline points="43.10,496.60 43.85,496.60 43.85,498.05 44.60,498.05 44.60,499.50 46.05,499.50 46.05,501.30 47.50,501.30 47.50,503.10 48.95,503.10 48.95,504.60 50.40,504.60 50.40,506.10 51.37,506.10 51.37,507.53 52.33,507.53 52.33,508.97 53.30,508.97 53.30,510.40 54.05,510.40 54.05,511.90 54.80,511.90 54.80,513.40 57.00,513.40 57.00,513.60 58.40,513.60 58.40,514.10 58.90,514.10 58.90,515.57 59.40,515.57 59.40,517.03 59.90,517.03 59.90,518.50 60.65,518.50 60.65,520.30 61.40,520.30 61.40,522.10 62.45,522.10 62.45,523.95 63.50,523.95 63.50,525.80 64.60,525.80 64.60,527.60 65.70,527.60 65.70,529.40 66.80,529.40 66.80,531.25 67.90,531.25 67.90,533.10 69.35,533.10 69.35,534.90 70.80,534.90 70.80,536.70 71.90,536.70 71.90,538.55 73.00,538.55 73.00,540.40 76.00,540.40 76.00,542.60 77.80,542.60 77.80,544.40 79.60,544.40 79.60,546.20 82.50,546.20 82.50,548.40 84.35,548.40 84.35,549.85 86.20,549.85 86.20,551.30 87.65,551.30 87.65,552.75 89.10,552.75 89.10,554.20 92.00,554.20 92.00,556.40 93.45,556.40 93.45,558.25 94.90,558.25 94.90,560.10 95.90,560.10 95.90,561.57 96.90,561.57 96.90,563.03 97.90,563.03 97.90,564.50 98.87,564.50 98.87,565.93 99.83,565.93 99.83,567.37 100.80,567.37 100.80,568.80 102.25,568.80 102.25,570.65 103.70,570.65 103.70,572.50 105.15,572.50 105.15,573.95 106.60,573.95 106.60,575.40 109.50,575.40 109.50,577.60 114.00,577.60 114.00,577.70 114.60,577.70 114.60,579.13 115.20,579.13 115.20,580.57 115.80,580.57 115.80,582.00 116.37,582.00 116.37,583.47 116.93,583.47 116.93,584.93 117.50,584.93 117.50,586.40 120.10,586.40 120.10,587.30 121.00,587.30 121.00,589.05 121.90,589.05 121.90,590.80 125.40,590.80 125.40,591.70 132.40,591.70 133.30,591.70 133.30,593.45 134.20,593.45 134.20,595.20 135.50,595.20 135.50,596.95 136.80,596.95 136.80,598.70 143.80,598.70 145.50,598.70 145.50,600.40 156.10,600.40 156.50,600.40 156.50,601.75 156.90,601.75 156.90,603.10 163.90,603.10 163.90,603.40 164.35,603.40 164.35,605.00 164.80,605.00 164.80,606.60 173.60,606.60 174.45,606.60 174.45,607.90 175.30,607.90 175.30,609.20 185.80,609.20 186.50,609.20 186.50,611.05 187.20,611.05 187.20,612.90 213.70,612.90 213.70,618.20 220.20,618.20 220.20,623.70 239.20,623.70 239.20,631.30 257.40,631.30 257.40,641.10 292.80,641.10" fill="none" stroke="#FF0000" stroke-width="0.95" />
<polyline points="43.10,495.10 44.33,495.10 44.33,496.57 45.57,496.57 45.57,498.03 46.80,498.03 46.80,499.50 48.25,499.50 48.25,501.30 49.70,501.30 49.70,503.10 51.15,503.10 51.15,504.95 52.60,504.95 52.60,506.80 54.80,506.80 54.80,509.00 56.25,509.00 56.25,510.80 57.70,510.80 57.70,512.60 59.55,512.60 59.55,514.05 61.40,514.05 61.40,515.50 62.10,515.50 62.10,516.30 62.33,516.30 62.33,518.00 62.57,518.00 62.57,519.70 62.80,519.70 62.80,521.40 63.53,521.40 63.53,522.87 64.27,522.87 64.27,524.33 65.00,524.33 65.00,525.80 67.20,525.80 67.20,527.60 69.40,527.60 69.40,529.40 70.87,529.40 70.87,530.87 72.33,530.87 72.33,532.33 73.80,532.33 73.80,533.80 75.60,533.80 75.60,535.25 77.40,535.25 77.40,536.70 78.87,536.70 78.87,538.17 80.33,538.17 80.33,539.63 81.80,539.63 81.80,541.10 84.00,541.10 84.00,541.80 87.60,541.80 87.60,543.30 92.70,543.30 92.70,545.50 93.80,545.50 93.80,547.30 94.90,547.30 94.90,549.10 97.10,549.10 97.10,550.55 99.30,550.55 99.30,552.00 104.40,552.00 104.40,554.20 105.15,554.20 105.15,556.05 105.90,556.05 105.90,557.90 107.30,557.90 107.30,559.30 111.00,559.30 111.00,558.90 124.10,558.90 124.10,559.30 132.20,559.30 132.20,560.10 133.30,560.10 133.30,561.55 134.40,561.55 134.40,563.00 135.60,563.00 135.60,564.20 136.80,564.20 136.80,565.40 142.00,565.40 142.00,566.30 144.70,566.30 144.70,568.00 146.00,568.00 146.00,569.35 147.30,569.35 147.30,570.70 148.17,570.70 148.17,572.13 149.03,572.13 149.03,573.57 149.90,573.57 149.90,575.00 150.80,575.00 150.80,576.47 151.70,576.47 151.70,577.93 152.60,577.93 152.60,579.40 158.70,579.40 158.70,580.30 159.55,580.30 159.55,581.60 160.40,581.60 160.40,582.90 161.30,582.90 161.30,584.65 162.20,584.65 162.20,586.40 166.60,586.40 167.47,586.40 167.47,587.87 168.33,587.87 168.33,589.33 169.20,589.33 169.20,590.80 171.40,590.80 171.40,592.10 173.60,592.10 173.60,593.40 185.80,593.40 185.80,594.30 186.70,594.30 186.70,595.60 187.60,595.60 187.60,596.90 188.90,596.90 188.90,598.25 190.20,598.25 190.20,599.60 195.50,599.60 195.50,600.40 196.35,600.40 196.35,601.75 197.20,601.75 197.20,603.10 203.40,603.10 203.40,603.40 204.25,603.40 204.25,605.00 205.10,605.00 205.10,606.60 206.00,606.60 206.00,608.00 206.90,608.00 206.90,609.40 227.40,609.40 227.40,612.90 252.50,612.90 252.50,619.00 294.20,619.00 294.20,629.20 332.00,629.20 332.00,660.50" fill="none" stroke="#0000FF" stroke-width="0.95" />
<line x1="113.00" y1="557.50" x2="113.00" y2="561.10" stroke="#0000FF" stroke-width="0.8" />
<line x1="118.00" y1="557.50" x2="118.00" y2="561.10" stroke="#0000FF" stroke-width="0.8" />
<line x1="128.00" y1="558.30" x2="128.00" y2="561.90" stroke="#0000FF" stroke-width="0.8" />
<line x1="150.00" y1="573.20" x2="150.00" y2="576.80" stroke="#0000FF" stroke-width="0.8" />
<line x1="170.00" y1="589.00" x2="170.00" y2="592.60" stroke="#0000FF" stroke-width="0.8" />
<line x1="178.00" y1="592.00" x2="178.00" y2="595.60" stroke="#0000FF" stroke-width="0.8" />
<line x1="182.00" y1="592.20" x2="182.00" y2="595.80" stroke="#0000FF" stroke-width="0.8" />
<line x1="213.00" y1="607.60" x2="213.00" y2="611.20" stroke="#0000FF" stroke-width="0.8" />
<line x1="218.00" y1="607.60" x2="218.00" y2="611.20" stroke="#0000FF" stroke-width="0.8" />
<line x1="241.00" y1="611.10" x2="241.00" y2="614.70" stroke="#0000FF" stroke-width="0.8" />
<line x1="245.00" y1="611.10" x2="245.00" y2="614.70" stroke="#0000FF" stroke-width="0.8" />
<line x1="263.00" y1="617.20" x2="263.00" y2="620.80" stroke="#0000FF" stroke-width="0.8" />
<line x1="264.50" y1="617.20" x2="264.50" y2="620.80" stroke="#0000FF" stroke-width="0.8" />
<line x1="300.00" y1="627.40" x2="300.00" y2="631.00" stroke="#0000FF" stroke-width="0.8" />
<line x1="304.00" y1="627.40" x2="304.00" y2="631.00" stroke="#0000FF" stroke-width="0.8" />
<line x1="90.00" y1="553.20" x2="90.00" y2="556.80" stroke="#FF0000" stroke-width="0.8" />
<line x1="120.00" y1="585.50" x2="120.00" y2="589.10" stroke="#FF0000" stroke-width="0.8" />
<line x1="128.00" y1="589.90" x2="128.00" y2="593.50" stroke="#FF0000" stroke-width="0.8" />
<line x1="140.00" y1="596.90" x2="140.00" y2="600.50" stroke="#FF0000" stroke-width="0.8" />
<line x1="150.00" y1="598.60" x2="150.00" y2="602.20" stroke="#FF0000" stroke-width="0.8" />
<line x1="160.00" y1="601.60" x2="160.00" y2="605.20" stroke="#FF0000" stroke-width="0.8" />
<line x1="170.00" y1="604.80" x2="170.00" y2="608.40" stroke="#FF0000" stroke-width="0.8" />
<line x1="180.00" y1="607.40" x2="180.00" y2="611.00" stroke="#FF0000" stroke-width="0.8" />
<line x1="228.00" y1="621.90" x2="228.00" y2="625.50" stroke="#FF0000" stroke-width="0.8" />
<line x1="253.00" y1="629.50" x2="253.00" y2="633.10" stroke="#FF0000" stroke-width="0.8" />
<line x1="275.00" y1="639.30" x2="275.00" y2="642.90" stroke="#FF0000" stroke-width="0.8" />
<line x1="292.80" y1="639.30" x2="292.80" y2="642.90" stroke="#FF0000" stroke-width="0.8" />
<line x1="163.60" y1="495.40" x2="174.90" y2="495.40" stroke="#0000FF" stroke-width="2.4" />
<line x1="214.20" y1="495.40" x2="225.50" y2="495.40" stroke="#FF0000" stroke-width="2.4" />
<text transform="translate(188.7,493.9) scale(1.15,1)" font-size="6.3" text-anchor="middle" fill="#222" >Low</text>
<text transform="translate(188.7,500.9) scale(1.2,1)" font-size="6.3" text-anchor="middle" fill="#222" >N=244</text>
<text transform="translate(239.8,493.9) scale(1.15,1)" font-size="6.3" text-anchor="middle" fill="#222" >High</text>
<text transform="translate(239.8,500.9) scale(1.2,1)" font-size="6.3" text-anchor="middle" fill="#222" >N=244</text>
<line x1="501.05" y1="473.70" x2="501.05" y2="666.20" stroke="#EBEBEB" stroke-width="1.0" />
<line x1="481.80" y1="646.95" x2="674.30" y2="646.95" stroke="#EBEBEB" stroke-width="1.0" />
<line x1="520.30" y1="473.70" x2="520.30" y2="666.20" stroke="#EBEBEB" stroke-width="1.0" />
<line x1="481.80" y1="627.70" x2="674.30" y2="627.70" stroke="#EBEBEB" stroke-width="1.0" />
<line x1="539.55" y1="473.70" x2="539.55" y2="666.20" stroke="#EBEBEB" stroke-width="1.0" />
<line x1="481.80" y1="608.45" x2="674.30" y2="608.45" stroke="#EBEBEB" stroke-width="1.0" />
<line x1="558.80" y1="473.70" x2="558.80" y2="666.20" stroke="#EBEBEB" stroke-width="1.0" />
<line x1="481.80" y1="589.20" x2="674.30" y2="589.20" stroke="#EBEBEB" stroke-width="1.0" />
<line x1="578.05" y1="473.70" x2="578.05" y2="666.20" stroke="#EBEBEB" stroke-width="1.0" />
<line x1="481.80" y1="569.95" x2="674.30" y2="569.95" stroke="#EBEBEB" stroke-width="1.0" />
<line x1="597.30" y1="473.70" x2="597.30" y2="666.20" stroke="#EBEBEB" stroke-width="1.0" />
<line x1="481.80" y1="550.70" x2="674.30" y2="550.70" stroke="#EBEBEB" stroke-width="1.0" />
<line x1="616.55" y1="473.70" x2="616.55" y2="666.20" stroke="#EBEBEB" stroke-width="1.0" />
<line x1="481.80" y1="531.45" x2="674.30" y2="531.45" stroke="#EBEBEB" stroke-width="1.0" />
<line x1="635.80" y1="473.70" x2="635.80" y2="666.20" stroke="#EBEBEB" stroke-width="1.0" />
<line x1="481.80" y1="512.20" x2="674.30" y2="512.20" stroke="#EBEBEB" stroke-width="1.0" />
<line x1="655.05" y1="473.70" x2="655.05" y2="666.20" stroke="#EBEBEB" stroke-width="1.0" />
<line x1="481.80" y1="492.95" x2="674.30" y2="492.95" stroke="#EBEBEB" stroke-width="1.0" />
<line x1="481.80" y1="666.20" x2="674.30" y2="473.70" stroke="#BEBEBE" stroke-width="1.2" />
<polyline points="481.80,666.20 483.73,666.20 483.73,665.05 486.81,665.05 486.81,662.93 488.92,662.93 488.92,661.39 491.81,661.39 491.81,660.62 494.70,660.62 494.70,659.27 496.24,659.27 496.24,656.38 497.78,656.38 497.78,653.50 499.12,653.50 499.12,650.61 502.01,650.61 502.01,647.72 505.09,647.72 505.09,644.64 507.98,644.64 507.98,643.29 510.87,643.29 510.87,642.52 512.99,642.52 512.99,640.98 515.29,640.98 515.29,637.33 516.64,637.33 516.64,634.44 518.95,634.44 518.95,631.55 520.30,631.55 520.30,628.66 522.42,628.66 522.42,624.24 523.96,624.24 523.96,621.35 525.50,621.35 525.50,618.46 526.85,618.46 526.85,615.38 529.15,615.38 529.15,612.49 530.50,612.49 530.50,610.38 532.81,610.38 532.81,608.07 533.39,608.07 533.39,605.95 534.93,605.95 534.93,603.83 535.70,603.83 535.70,599.40 536.47,599.40 536.47,596.52 537.05,596.52 537.05,594.21 539.36,594.21 539.36,592.86 542.25,592.86 542.25,590.74 544.36,590.74 544.36,589.20 546.67,589.20 546.67,587.66 548.02,587.66 548.02,585.54 550.33,585.54 550.33,584.00 552.45,584.00 552.45,581.88 555.34,581.88 555.34,580.35 557.45,580.35 557.45,579.00 563.42,579.00 563.42,578.23 564.77,578.23 564.77,573.80 565.54,573.80 565.54,568.80 567.85,568.80 567.85,567.64 570.35,567.64 570.35,567.06 570.93,567.06 570.93,564.75 572.08,564.75 572.08,563.02 573.82,563.02 573.82,561.87 574.97,561.87 574.97,558.98 576.12,558.98 576.12,557.25 582.09,557.25 582.09,556.86 582.86,556.86 582.86,546.85 584.21,546.85 584.21,541.65 588.06,541.65 588.06,539.34 594.99,539.34 594.99,537.42 596.53,537.42 596.53,535.49 599.61,535.49 599.61,531.84 602.50,531.84 602.50,529.53 604.04,529.53 604.04,527.99 611.74,527.99 611.74,527.22 613.28,527.22 613.28,521.83 614.62,521.83 614.62,519.52 617.71,519.52 617.71,516.63 620.78,516.63 620.78,514.70 623.67,514.70 623.67,512.78 628.29,512.78 628.29,512.01 629.83,512.01 629.83,507.58 630.60,507.58 630.60,502.19 632.91,502.19 632.91,500.27 638.11,500.27 638.11,499.69 639.65,499.69 639.65,497.57 641.19,497.57 641.19,495.26 642.73,495.26 642.73,492.95 643.50,492.95 643.50,490.06 645.81,490.06 645.81,489.29 655.63,489.29 655.63,488.52 657.17,488.52 657.17,486.02 658.71,486.02 658.71,480.82 660.25,480.82 660.25,477.94 663.33,477.94 663.33,476.40 667.75,476.40 667.75,474.86 673.91,474.86 673.91,473.89 674.30,473.89 674.30,473.70" fill="none" stroke="#4DBBD5" stroke-width="1.3" />
<polyline points="481.80,666.20 481.80,666.20 481.80,665.43 483.11,665.43 483.11,663.31 486.04,663.31 486.04,661.39 486.81,661.39 486.81,656.19 489.69,656.19 489.69,654.65 491.23,654.65 491.23,653.50 493.35,653.50 493.35,651.38 494.70,651.38 494.70,649.07 497.78,649.07 497.78,646.18 498.36,646.18 498.36,644.06 502.01,644.06 502.01,643.29 504.32,643.29 504.32,640.98 507.21,640.98 507.21,638.87 507.98,638.87 507.98,633.67 509.33,633.67 509.33,633.09 510.10,633.09 510.10,622.70 514.52,622.70 514.52,622.50 515.29,622.50 515.29,608.07 519.53,608.07 519.53,606.72 521.84,606.72 521.84,606.33 523.19,606.33 523.19,603.06 526.08,603.06 526.08,602.29 529.15,602.29 529.15,601.52 529.73,601.52 529.73,596.52 532.81,596.52 532.81,594.98 535.70,594.98 535.70,594.21 538.59,594.21 538.59,592.86 539.36,592.86 539.36,590.74 541.48,590.74 541.48,589.97 543.01,589.97 543.01,588.43 543.78,588.43 543.78,570.14 545.71,570.14 545.71,562.44 548.60,562.44 548.60,560.71 552.64,560.71 552.64,556.67 557.45,556.67 557.45,550.70 564.96,550.70 564.96,540.11 566.12,540.11 566.12,538.00 572.08,538.00 572.08,537.23 576.51,537.23 576.51,532.61 582.09,532.61 582.09,531.07 584.21,531.07 584.21,527.22 598.07,527.22 598.07,526.45 603.27,526.45 603.27,520.48 611.74,520.48 611.74,513.55 614.62,513.55 614.62,507.58 620.01,507.58 620.01,504.50 626.95,504.50 626.95,500.65 632.14,500.65 632.14,496.03 636.76,496.03 636.76,492.95 643.69,492.95 643.69,490.06 648.89,490.06 648.89,486.21 651.20,486.21 651.20,482.36 654.09,482.36 654.09,480.05 656.59,480.05 656.59,475.63 658.71,475.63 658.71,473.70 674.30,473.70 674.30,473.70" fill="none" stroke="#E64B35" stroke-width="1.3" />
<polyline points="481.80,666.20 481.80,660.04 495.47,660.04 495.47,647.53 509.33,647.53 509.33,640.21 523.19,640.21 523.19,603.06 536.86,603.06 536.86,546.08 550.52,546.08 550.52,540.88 564.38,540.88 564.38,530.30 578.05,530.30 578.05,510.85 591.91,510.85 591.91,506.62 605.58,506.62 605.58,504.12 620.01,504.12 620.01,502.19 632.91,502.19 632.91,486.21 674.30,486.21 674.30,473.70" fill="none" stroke="#00A087" stroke-width="1.3" />
<rect x="480.20" y="472.40" width="195.20" height="195.80" fill="none" stroke="#222" stroke-width="1.4" />
<line x1="475.20" y1="666.20" x2="480.20" y2="666.20" stroke="#222" stroke-width="1" />
<text x="471.30" y="670.00" font-size="10.6" text-anchor="end" fill="#222" >0.0</text>
<line x1="481.80" y1="668.20" x2="481.80" y2="672.50" stroke="#222" stroke-width="1" />
<text x="481.80" y="683.40" font-size="10.6" text-anchor="middle" fill="#222" >0.0</text>
<line x1="475.20" y1="627.70" x2="480.20" y2="627.70" stroke="#222" stroke-width="1" />
<text x="471.30" y="631.50" font-size="10.6" text-anchor="end" fill="#222" >0.2</text>
<line x1="520.30" y1="668.20" x2="520.30" y2="672.50" stroke="#222" stroke-width="1" />
<text x="520.30" y="683.40" font-size="10.6" text-anchor="middle" fill="#222" >0.2</text>
<line x1="475.20" y1="589.20" x2="480.20" y2="589.20" stroke="#222" stroke-width="1" />
<text x="471.30" y="593.00" font-size="10.6" text-anchor="end" fill="#222" >0.4</text>
<line x1="558.80" y1="668.20" x2="558.80" y2="672.50" stroke="#222" stroke-width="1" />
<text x="558.80" y="683.40" font-size="10.6" text-anchor="middle" fill="#222" >0.4</text>
<line x1="475.20" y1="550.70" x2="480.20" y2="550.70" stroke="#222" stroke-width="1" />
<text x="471.30" y="554.50" font-size="10.6" text-anchor="end" fill="#222" >0.6</text>
<line x1="597.30" y1="668.20" x2="597.30" y2="672.50" stroke="#222" stroke-width="1" />
<text x="597.30" y="683.40" font-size="10.6" text-anchor="middle" fill="#222" >0.6</text>
<line x1="475.20" y1="512.20" x2="480.20" y2="512.20" stroke="#222" stroke-width="1" />
<text x="471.30" y="516.00" font-size="10.6" text-anchor="end" fill="#222" >0.8</text>
<line x1="635.80" y1="668.20" x2="635.80" y2="672.50" stroke="#222" stroke-width="1" />
<text x="635.80" y="683.40" font-size="10.6" text-anchor="middle" fill="#222" >0.8</text>
<line x1="475.20" y1="473.70" x2="480.20" y2="473.70" stroke="#222" stroke-width="1" />
<text x="471.30" y="477.50" font-size="10.6" text-anchor="end" fill="#222" >1.0</text>
<line x1="674.30" y1="668.20" x2="674.30" y2="672.50" stroke="#222" stroke-width="1" />
<text x="674.30" y="683.40" font-size="10.6" text-anchor="middle" fill="#222" >1.0</text>
<text transform="translate(449,569.2) rotate(-90)" font-size="11.6" text-anchor="middle" fill="#000" >Sensitivity (TPR)</text>
<text x="578.20" y="699.00" font-size="12.3" text-anchor="middle" fill="#000" >1-Specificity (FPR)</text>
<line x1="559.80" y1="635.00" x2="574.10" y2="635.00" stroke="#4DBBD5" stroke-width="1.3" />
<text x="581.30" y="638.10" font-size="8.8" text-anchor="start" fill="#222" >1-Year (AUC = 0.544)</text>
<line x1="559.80" y1="646.45" x2="574.10" y2="646.45" stroke="#E64B35" stroke-width="1.3" />
<text x="581.30" y="649.55" font-size="8.8" text-anchor="start" fill="#222" >5-Year (AUC = 0.608)</text>
<line x1="559.80" y1="657.90" x2="574.10" y2="657.90" stroke="#00A087" stroke-width="1.3" />
<text x="581.30" y="661.00" font-size="8.8" text-anchor="start" fill="#222" >10-Year (AUC = 0.623)</text>
<rect x="42.50" y="725.90" width="252.80" height="165.50" fill="none" stroke="#555" stroke-width="1" />
<line x1="38.50" y1="866.00" x2="42.50" y2="866.00" stroke="#555" stroke-width="1" />
<text transform="translate(33.6,866.00) rotate(-90)" font-size="8.3" text-anchor="middle" fill="#222" >10</text>
<line x1="38.50" y1="824.50" x2="42.50" y2="824.50" stroke="#555" stroke-width="1" />
<text transform="translate(33.6,824.50) rotate(-90)" font-size="8.3" text-anchor="middle" fill="#222" >20</text>
<line x1="38.50" y1="783.00" x2="42.50" y2="783.00" stroke="#555" stroke-width="1" />
<text transform="translate(33.6,783.00) rotate(-90)" font-size="8.3" text-anchor="middle" fill="#222" >30</text>
<line x1="38.50" y1="741.50" x2="42.50" y2="741.50" stroke="#555" stroke-width="1" />
<text transform="translate(33.6,741.50) rotate(-90)" font-size="8.3" text-anchor="middle" fill="#222" >40</text>
<text transform="translate(19.6,809) scale(0.9,1) rotate(-90)" font-size="8.5" text-anchor="middle" fill="#000" >NPLOC4 expression</text>
<line x1="110.1" y1="765.30" x2="110.1" y2="885.30" stroke="#555" stroke-width="0.8" stroke-dasharray="1.2,1.6"/>
<line x1="86.52" y1="765.30" x2="133.68" y2="765.30" stroke="#888" stroke-width="1.1" />
<line x1="86.52" y1="885.30" x2="133.68" y2="885.30" stroke="#888" stroke-width="1.1" />
<rect x="63.00" y="810.60" width="94.30" height="35.50" fill="#0000FF" stroke="none" stroke-width="1" />
<line x1="63.00" y1="830.90" x2="157.30" y2="830.90" stroke="#000" stroke-width="1.8" />
<line x1="227.6" y1="761.10" x2="227.6" y2="883.20" stroke="#555" stroke-width="0.8" stroke-dasharray="1.2,1.6"/>
<line x1="204.07" y1="761.10" x2="251.12" y2="761.10" stroke="#888" stroke-width="1.1" />
<line x1="204.07" y1="883.20" x2="251.12" y2="883.20" stroke="#888" stroke-width="1.1" />
<rect x="180.30" y="805.90" width="94.10" height="35.50" fill="#FF0000" stroke="none" stroke-width="1" />
<line x1="180.30" y1="824.10" x2="274.40" y2="824.10" stroke="#000" stroke-width="1.8" />
<polyline points="110.10,749.10 110.10,746.50 227.60,746.50 227.60,749.10" fill="none" stroke="#666" stroke-width="0.9" />
<text x="168.90" y="742.70" font-size="8.9" text-anchor="middle" fill="#000" >p=0.042</text>
<line x1="110.10" y1="891.40" x2="110.10" y2="895.90" stroke="#555" stroke-width="1" />
<text x="110.10" y="905.20" font-size="8.2" text-anchor="middle" fill="#000" >Stage I− II</text>
<line x1="227.60" y1="891.40" x2="227.60" y2="895.90" stroke="#555" stroke-width="1" />
<text x="227.60" y="905.20" font-size="8.2" text-anchor="middle" fill="#000" >Stage III−IV</text>
<text x="168.70" y="920.30" font-size="8.5" text-anchor="middle" fill="#000" >clinical</text>
<rect x="422.60" y="725.00" width="253.10" height="167.00" fill="none" stroke="#555" stroke-width="1" />
<line x1="418.60" y1="887.50" x2="422.60" y2="887.50" stroke="#555" stroke-width="1" />
<text transform="translate(413.8,887.50) rotate(-90)" font-size="8.3" text-anchor="middle" fill="#222" >5</text>
<line x1="418.60" y1="865.90" x2="422.60" y2="865.90" stroke="#555" stroke-width="1" />
<text transform="translate(413.8,865.90) rotate(-90)" font-size="8.3" text-anchor="middle" fill="#222" >10</text>
<line x1="418.60" y1="844.30" x2="422.60" y2="844.30" stroke="#555" stroke-width="1" />
<text transform="translate(413.8,844.30) rotate(-90)" font-size="8.3" text-anchor="middle" fill="#222" >15</text>
<line x1="418.60" y1="822.70" x2="422.60" y2="822.70" stroke="#555" stroke-width="1" />
<text transform="translate(413.8,822.70) rotate(-90)" font-size="8.3" text-anchor="middle" fill="#222" >20</text>
<line x1="418.60" y1="801.10" x2="422.60" y2="801.10" stroke="#555" stroke-width="1" />
<text transform="translate(413.8,801.10) rotate(-90)" font-size="8.3" text-anchor="middle" fill="#222" >25</text>
<line x1="418.60" y1="779.50" x2="422.60" y2="779.50" stroke="#555" stroke-width="1" />
<text transform="translate(413.8,779.50) rotate(-90)" font-size="8.3" text-anchor="middle" fill="#222" >30</text>
<line x1="418.60" y1="757.90" x2="422.60" y2="757.90" stroke="#555" stroke-width="1" />
<text transform="translate(413.8,757.90) rotate(-90)" font-size="8.3" text-anchor="middle" fill="#222" >35</text>
<line x1="418.60" y1="736.30" x2="422.60" y2="736.30" stroke="#555" stroke-width="1" />
<text transform="translate(413.8,736.30) rotate(-90)" font-size="8.3" text-anchor="middle" fill="#222" >40</text>
<text transform="translate(400.3,808.7) scale(0.9,1) rotate(-90)" font-size="8.5" text-anchor="middle" fill="#000" >NPLOC4 expression</text>
<line x1="490.3" y1="760.20" x2="490.3" y2="886.00" stroke="#555" stroke-width="0.8" stroke-dasharray="1.2,1.6"/>
<line x1="466.38" y1="760.20" x2="514.23" y2="760.20" stroke="#888" stroke-width="1.1" />
<line x1="466.38" y1="886.00" x2="514.23" y2="886.00" stroke="#888" stroke-width="1.1" />
<rect x="441.90" y="809.40" width="95.70" height="36.10" fill="#0000FF" stroke="none" stroke-width="1" />
<line x1="441.90" y1="829.50" x2="537.60" y2="829.50" stroke="#000" stroke-width="1.8" />
<line x1="607.6" y1="770.30" x2="607.6" y2="883.10" stroke="#555" stroke-width="0.8" stroke-dasharray="1.2,1.6"/>
<line x1="583.58" y1="770.30" x2="631.62" y2="770.30" stroke="#888" stroke-width="1.1" />
<line x1="583.58" y1="883.10" x2="631.62" y2="883.10" stroke="#888" stroke-width="1.1" />
<rect x="560.30" y="806.40" width="96.10" height="33.10" fill="#FF0000" stroke="none" stroke-width="1" />
<line x1="560.30" y1="823.50" x2="656.40" y2="823.50" stroke="#000" stroke-width="1.8" />
<polyline points="490.30,748.70 490.30,746.10 607.60,746.10 607.60,748.70" fill="none" stroke="#666" stroke-width="0.9" />
<text x="548.80" y="742.30" font-size="8.9" text-anchor="middle" fill="#000" >p=0.009</text>
<line x1="490.30" y1="892.00" x2="490.30" y2="896.50" stroke="#555" stroke-width="1" />
<text x="490.30" y="905.80" font-size="8.2" text-anchor="middle" fill="#000" >N0</text>
<line x1="607.60" y1="892.00" x2="607.60" y2="896.50" stroke="#555" stroke-width="1" />
<text x="607.60" y="905.80" font-size="8.2" text-anchor="middle" fill="#000" >N1−3</text>
<text x="549.10" y="920.50" font-size="8.5" text-anchor="middle" fill="#000" >clinical</text>
</svg></body></html>
